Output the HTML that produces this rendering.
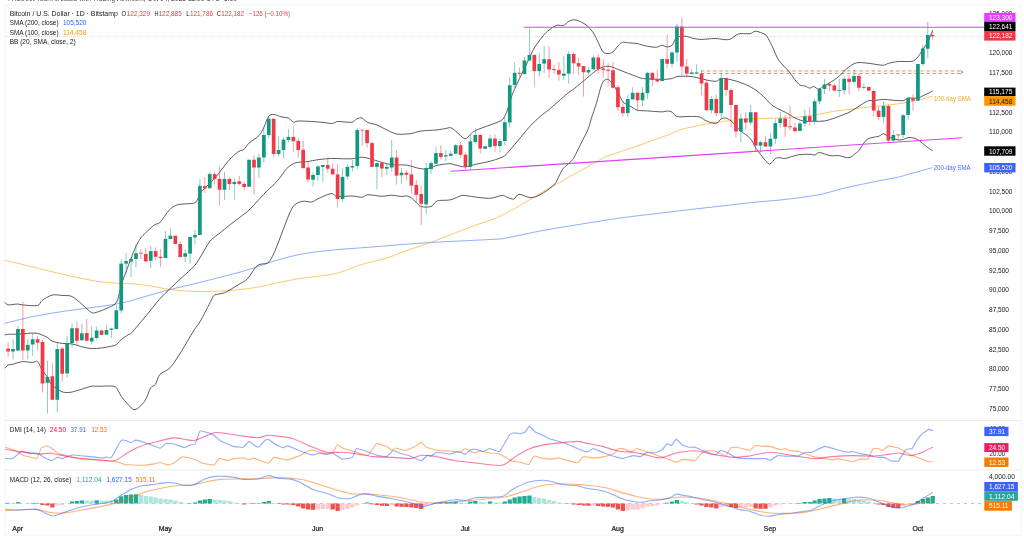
<!DOCTYPE html><html><head><meta charset="utf-8"><title>BTCUSD</title>
<style>html,body{margin:0;padding:0;background:#fff;overflow:hidden}svg{display:block;filter:blur(0.35px)}text{font-family:"Liberation Sans",sans-serif}</style></head><body>
<svg width="1024" height="538" viewBox="0 0 1024 538">
<rect width="1024" height="538" fill="#fff"/>
<text x="8" y="0.6" font-size="8.2" fill="#555" textLength="229" lengthAdjust="spacingAndGlyphs">FXStreet Team created with TradingView.com, Oct 04, 2025 11:06 UTC+5:30</text>
<rect x="5" y="5" width="1016" height="530.3" fill="none" stroke="#d4d6dc" stroke-width="0.5" stroke-dasharray="1 1"/>
<path d="M5 420.5H1021M5 470H1021" stroke="#e4e6ec" stroke-width="0.8" fill="none"/>
<path d="M5 36.3H984" stroke="#f23645" stroke-width="0.5" stroke-dasharray="1 1" opacity="0.55"/>
<rect x="701" y="70.3" width="261" height="3.8" fill="#ff9800" opacity="0.11"/>
<path d="M701 70.9H961M701 73.5H961" stroke="#707070" stroke-width="0.6" stroke-dasharray="3 3.1" fill="none"/>
<path d="M960.5 70.6L963 72.2L960.5 73.8" stroke="#555" stroke-width="0.6" fill="none"/>
<path d="M5.00 323.25 C9.65 322.15 22.78 318.74 32.50 316.75 C42.22 314.76 51.73 313.15 62.50 311.50 C73.27 309.85 87.38 308.23 96.25 307.00 C103.76 305.96 109.63 305.18 115.00 304.25 C120.24 303.34 124.92 302.22 128.00 301.50 C130.13 301.00 131.15 300.60 133.25 300.00 C140.05 298.06 157.05 292.96 168.25 290.00 C179.45 287.04 187.37 285.53 199.50 282.50 C211.63 279.47 229.99 274.85 240.00 272.10 C247.58 270.02 252.41 268.29 258.75 266.25 C265.09 264.21 270.53 262.00 277.50 260.00 C284.47 258.00 292.61 255.88 300.00 254.40 C307.39 252.92 314.49 252.09 321.25 251.25 C328.01 250.41 332.49 250.03 340.00 249.40 C347.90 248.73 357.99 248.09 368.00 247.30 C378.01 246.51 388.69 245.56 399.25 244.75 C409.81 243.94 419.94 243.15 430.50 242.50 C441.06 241.85 450.68 241.46 461.75 240.90 C472.82 240.34 488.94 239.59 496.00 239.20 C499.01 239.03 500.53 239.11 503.50 238.60 C507.73 237.87 513.99 236.33 521.00 234.90 C528.18 233.43 537.55 231.45 546.00 229.90 C554.45 228.35 562.55 227.13 571.00 225.75 C579.45 224.37 587.04 223.14 596.00 221.75 C604.96 220.36 612.77 218.96 624.00 217.50 C639.29 215.51 670.28 211.91 686.50 210.00 C699.89 208.42 708.93 207.47 720.00 206.20 C731.07 204.93 743.55 203.40 752.00 202.50 C759.19 201.74 765.27 201.32 770.00 200.90 C774.00 200.54 776.01 200.46 780.00 200.00 C785.91 199.32 797.61 197.96 805.00 196.90 C812.39 195.84 817.41 195.17 823.75 193.75 C830.09 192.33 836.16 190.08 842.50 188.50 C848.84 186.92 854.91 185.74 861.25 184.40 C867.59 183.06 873.66 181.85 880.00 180.60 C886.34 179.35 894.02 178.05 898.75 177.00 C902.50 176.17 904.41 175.40 908.00 174.40 C911.59 173.40 915.94 172.23 920.00 171.10 C924.06 169.97 929.97 168.27 932.00 167.70" fill="none" stroke="#2962ff" stroke-width="0.7" stroke-linejoin="round" stroke-linecap="round" opacity="0.75"/>
<path d="M5.00 260.50 C8.38 261.26 17.39 263.18 25.00 265.00 C32.61 266.82 41.55 269.22 50.00 271.25 C58.45 273.28 66.55 275.23 75.00 277.00 C83.45 278.77 92.82 280.69 100.00 281.75 C106.95 282.77 112.30 282.94 117.50 283.25 C122.70 283.56 125.46 283.19 130.75 283.60 C136.16 284.02 143.16 284.80 149.50 285.75 C155.84 286.70 161.91 288.35 168.25 289.25 C174.59 290.15 180.66 290.72 187.00 291.10 C193.34 291.48 199.41 291.56 205.75 291.50 C212.09 291.44 218.71 291.07 224.50 290.75 C230.29 290.43 234.21 290.25 240.00 289.60 C245.79 288.95 252.41 288.06 258.75 286.90 C265.09 285.74 270.53 284.17 277.50 282.75 C284.47 281.33 292.61 279.66 300.00 278.50 C307.39 277.34 314.91 276.81 321.25 275.90 C327.59 274.99 332.22 274.48 337.50 273.10 C342.78 271.72 347.35 269.51 352.50 267.75 C357.65 265.99 362.21 264.33 368.00 262.70 C373.79 261.07 380.41 260.08 386.75 258.10 C393.09 256.12 398.11 253.64 405.50 251.00 C412.89 248.36 422.05 245.58 430.50 242.50 C438.95 239.42 448.11 235.61 455.50 232.75 C462.89 229.89 467.41 228.06 474.25 225.60 C481.09 223.14 490.21 220.54 496.00 218.20 C501.22 216.09 504.27 214.00 508.50 211.75 C512.73 209.50 516.77 207.33 521.00 204.90 C525.23 202.47 529.27 199.94 533.50 197.40 C537.73 194.87 541.77 192.33 546.00 189.90 C550.23 187.47 554.78 185.08 558.50 183.00 C562.22 180.92 564.28 179.70 568.00 177.60 C571.72 175.50 576.27 172.94 580.50 170.60 C584.73 168.26 588.77 166.07 593.00 163.75 C597.23 161.43 601.27 158.80 605.50 156.90 C609.73 155.00 613.77 153.99 618.00 152.50 C622.23 151.01 626.27 149.54 630.50 148.10 C634.73 146.66 638.77 145.47 643.00 144.00 C647.23 142.53 651.27 140.92 655.50 139.40 C659.73 137.88 664.20 136.49 668.00 135.00 C671.80 133.51 674.83 131.77 678.00 130.60 C681.17 129.43 684.43 128.71 686.75 128.10 C688.73 127.58 689.74 127.42 691.75 127.00 C695.09 126.31 701.54 124.86 706.50 124.00 C711.46 123.14 716.94 122.51 721.10 121.90 C725.10 121.31 727.08 120.83 731.10 120.40 C736.07 119.87 743.00 119.14 750.50 118.75 C758.00 118.36 768.00 118.31 775.50 118.10 C783.00 117.89 789.93 117.81 794.90 117.50 C798.92 117.25 801.57 116.67 804.90 116.25 C808.23 115.83 810.74 115.65 814.60 115.00 C819.59 114.16 827.74 112.31 834.40 111.25 C841.06 110.19 847.35 109.55 854.00 108.75 C860.65 107.95 867.07 107.24 873.75 106.50 C880.43 105.76 887.69 105.12 893.50 104.40 C899.31 103.68 903.98 102.95 908.10 102.25 C912.04 101.58 914.54 101.09 917.90 100.25 C921.26 99.41 925.62 97.88 928.00 97.25 C929.57 96.83 931.32 96.63 932.00 96.50" fill="none" stroke="#ff9800" stroke-width="0.75" stroke-linejoin="round" stroke-linecap="round" opacity="0.75"/>
<path d="M5.00 302.40 C5.52 302.82 6.52 304.70 8.10 304.90 C10.21 305.17 15.07 304.00 17.50 304.00 C19.53 304.00 20.47 304.75 22.50 304.90 C25.88 305.15 34.19 306.24 37.50 305.50 C40.15 304.90 39.89 302.08 42.10 300.50 C44.57 298.74 48.65 295.95 52.10 295.10 C55.55 294.25 59.15 295.26 62.50 295.50 C65.85 295.74 68.62 295.02 71.90 296.50 C75.18 297.98 78.59 301.53 81.90 304.25 C85.21 306.97 89.07 311.22 91.50 312.60 C93.15 313.54 94.41 312.90 96.25 312.40 C98.74 311.72 102.91 310.19 106.25 308.60 C109.59 307.01 113.68 306.06 116.00 303.00 C118.32 299.94 119.00 293.88 120.00 290.50 C120.88 287.53 121.35 284.90 121.90 283.00 C122.34 281.47 122.69 280.74 123.25 279.25 C124.75 275.24 128.64 264.74 130.75 259.25 C132.68 254.22 134.06 250.34 135.75 246.75 C137.44 243.16 139.10 240.32 140.75 238.00 C142.35 235.75 143.51 234.91 145.50 233.00 C147.82 230.76 152.13 226.46 154.50 224.75 C156.23 223.50 157.99 224.41 159.50 222.90 C162.03 220.37 166.75 212.71 169.50 209.75 C171.57 207.52 173.64 206.35 175.75 205.40 C177.86 204.45 179.47 204.44 182.00 204.10 C185.17 203.68 191.75 203.95 194.50 202.90 C196.84 202.01 196.98 199.91 198.25 197.90 C199.52 195.89 200.52 193.01 202.00 191.00 C203.48 188.99 205.31 187.69 207.00 186.00 C208.69 184.31 210.10 183.01 212.00 181.00 C213.90 178.99 216.22 176.59 218.25 174.10 C220.28 171.61 221.76 169.06 224.00 166.25 C226.24 163.44 228.97 160.03 231.50 157.50 C234.03 154.97 236.89 152.62 239.00 151.25 C240.79 150.09 242.35 150.75 244.00 149.40 C245.69 148.02 246.63 145.28 249.00 143.10 C251.53 140.77 256.51 138.24 259.00 135.60 C261.49 132.96 262.10 130.77 263.75 127.50 C265.40 124.23 267.06 118.46 268.75 116.25 C270.04 114.55 271.62 114.29 273.75 114.40 C275.90 114.51 279.02 116.27 281.50 116.90 C283.98 117.53 286.39 117.22 288.40 118.10 C290.41 118.98 291.78 121.61 293.40 122.10 C295.02 122.59 296.11 121.06 298.00 121.00 C301.06 120.90 307.11 121.25 311.50 121.50 C315.89 121.75 320.45 122.16 324.00 122.50 C327.41 122.82 330.22 123.67 332.50 123.50 C334.65 123.34 335.35 121.64 337.50 121.50 C340.80 121.29 348.70 122.71 352.00 122.25 C354.42 121.91 355.27 119.45 357.00 118.75 C358.73 118.05 360.52 117.51 362.25 118.10 C363.98 118.69 364.90 121.15 367.25 122.25 C369.74 123.42 373.68 123.69 377.00 125.00 C380.32 126.31 383.59 128.48 386.90 130.00 C390.21 131.52 393.30 133.32 396.60 134.00 C399.90 134.68 403.90 134.08 406.40 134.00 C408.41 133.93 409.43 133.90 411.40 133.50 C413.91 132.99 417.23 131.57 421.25 131.00 C425.41 130.41 431.86 130.42 436.00 130.00 C439.93 129.60 443.26 128.88 445.75 128.50 C447.75 128.20 449.06 127.29 450.75 127.75 C452.44 128.21 453.82 129.75 455.75 131.25 C458.14 133.11 462.45 138.22 464.90 138.75 C467.35 139.28 468.50 135.78 470.25 134.40 C472.00 133.02 472.98 131.68 475.25 130.60 C478.59 129.01 485.83 126.58 490.00 125.00 C493.96 123.50 497.60 122.42 499.90 121.25 C501.63 120.37 502.52 119.72 503.60 118.10 C504.87 116.20 506.15 113.35 507.40 110.00 C508.67 106.60 509.90 101.51 511.10 98.00 C512.30 94.49 513.08 92.53 514.50 89.25 C515.92 85.97 517.81 82.09 519.50 78.60 C521.19 75.11 522.81 72.12 524.50 68.60 C526.19 65.08 527.85 61.23 529.50 57.75 C531.15 54.27 531.96 51.69 534.25 48.00 C536.57 44.26 540.74 38.64 543.25 35.60 C545.31 33.10 546.78 31.75 549.10 30.00 C551.42 28.25 554.61 25.99 557.00 25.25 C559.39 24.51 561.24 26.28 563.25 25.60 C565.26 24.92 567.10 22.24 568.90 21.25 C570.70 20.26 572.21 19.79 573.90 19.75 C575.59 19.71 577.02 20.16 578.90 21.00 C581.11 21.99 584.53 23.56 587.00 25.60 C589.47 27.64 591.60 30.24 593.50 33.10 C595.40 35.96 596.64 39.32 598.25 42.50 C599.86 45.68 601.35 50.04 603.00 51.90 C604.39 53.47 606.31 53.50 608.00 53.50 C609.69 53.50 611.34 53.18 613.00 51.90 C614.73 50.56 616.63 47.23 618.25 45.60 C619.80 44.04 621.02 42.73 622.60 42.25 C624.18 41.77 625.60 42.58 627.60 42.75 C630.03 42.96 634.90 43.22 637.00 43.50 C638.24 43.67 638.79 44.08 640.00 44.40 C641.77 44.86 644.75 45.77 647.50 46.25 C650.25 46.73 653.82 47.42 656.25 47.25 C658.64 47.08 660.04 45.31 661.90 45.25 C663.76 45.19 665.50 46.94 667.25 46.90 C669.00 46.86 670.94 46.27 672.25 45.00 C673.56 43.73 674.11 40.77 675.00 39.40 C675.77 38.21 676.14 37.28 677.50 36.90 C679.40 36.37 683.82 36.05 686.25 36.25 C688.62 36.45 689.57 37.61 691.90 38.10 C694.43 38.63 697.47 39.33 701.25 39.40 C705.15 39.47 710.77 38.44 715.00 38.50 C719.23 38.56 723.50 39.71 726.25 39.75 C728.29 39.78 729.56 39.55 731.25 38.75 C732.94 37.95 734.56 35.89 736.25 35.00 C737.94 34.11 739.17 33.69 741.25 33.50 C743.57 33.29 747.57 34.13 750.00 33.75 C752.42 33.37 753.15 31.14 755.60 31.25 C758.13 31.36 762.90 33.24 765.00 34.40 C766.67 35.32 767.03 36.46 768.00 38.10 C769.35 40.40 771.21 44.30 773.00 48.00 C774.79 51.70 775.85 55.96 778.60 60.00 C781.35 64.04 786.50 68.56 789.25 71.90 C791.71 74.88 793.10 77.54 794.90 79.75 C796.70 81.96 798.21 83.94 799.90 85.00 C801.59 86.06 803.21 85.48 804.90 86.00 C806.59 86.52 808.43 88.02 809.90 88.10 C811.37 88.18 812.10 86.35 813.60 86.50 C815.10 86.65 816.92 89.15 818.75 89.00 C820.58 88.85 822.60 86.60 824.40 85.60 C826.20 84.60 827.51 84.30 829.40 83.10 C831.88 81.52 836.63 78.25 839.10 76.25 C841.27 74.49 842.33 72.83 844.00 71.25 C845.67 69.67 847.31 68.17 849.00 66.90 C850.69 65.63 852.31 64.49 854.00 63.75 C855.69 63.01 856.94 62.53 859.00 62.50 C861.70 62.46 865.93 63.04 870.00 63.50 C874.07 63.96 879.97 65.28 883.10 65.25 C885.40 65.23 886.27 63.84 888.50 63.30 C891.10 62.67 894.45 61.85 898.50 61.50 C902.56 61.15 909.22 62.03 912.50 61.25 C915.20 60.61 916.14 58.90 917.90 56.90 C919.66 54.90 921.18 52.04 922.90 49.40 C924.62 46.76 926.48 44.43 928.10 41.25 C929.72 38.07 931.76 32.40 932.50 30.60" fill="none" stroke="#2e2e2e" stroke-width="0.95" stroke-linejoin="round" stroke-linecap="round" opacity="0.82"/>
<path d="M5.00 334.90 C5.52 334.79 6.83 334.32 8.10 334.25 C10.21 334.14 14.22 334.39 17.50 334.25 C20.78 334.11 24.12 333.54 27.50 333.40 C30.88 333.26 34.16 332.72 37.50 333.40 C40.84 334.08 44.78 336.10 47.25 337.40 C49.41 338.54 49.83 340.19 52.10 341.10 C54.64 342.11 58.90 342.93 62.25 343.40 C65.60 343.87 68.58 343.33 71.90 343.90 C75.22 344.47 78.59 345.96 81.90 346.75 C85.21 347.54 88.19 348.39 91.50 348.60 C94.81 348.81 98.37 348.35 101.50 348.00 C104.63 347.65 107.55 347.02 110.00 346.50 C112.43 345.98 114.14 346.02 116.00 344.90 C117.86 343.78 118.97 341.59 121.00 339.90 C123.03 338.21 126.24 336.07 128.00 334.90 C129.30 334.04 130.34 334.14 131.40 333.00 C134.83 329.30 143.55 318.70 148.30 313.00 C152.84 307.55 155.71 303.48 159.50 299.25 C163.29 295.02 166.95 291.69 170.75 288.00 C174.55 284.31 177.99 281.16 182.00 277.40 C186.01 273.64 191.12 269.66 194.50 265.75 C197.88 261.84 199.47 258.31 202.00 254.25 C204.53 250.19 207.18 244.82 209.50 241.75 C211.54 239.06 213.98 237.58 215.75 236.10 C217.37 234.75 218.61 234.12 220.00 233.00 C221.39 231.88 222.33 230.81 224.00 229.50 C227.84 226.47 238.53 218.38 242.75 215.10 C245.28 213.14 246.74 212.36 249.00 210.10 C253.22 205.88 263.52 194.43 267.75 190.10 C270.10 187.70 271.85 186.71 274.00 184.50 C276.15 182.29 278.39 179.66 280.50 177.00 C282.61 174.34 284.32 170.99 286.50 168.75 C288.68 166.51 291.29 164.85 293.40 163.75 C295.46 162.68 296.71 162.60 299.00 162.25 C301.47 161.87 304.83 161.92 308.00 161.50 C311.17 161.08 313.99 160.26 317.75 159.75 C321.51 159.24 326.02 158.67 330.25 158.50 C334.48 158.33 339.07 158.71 342.75 158.75 C346.43 158.79 348.70 159.00 352.00 158.75 C355.30 158.50 358.87 157.14 362.25 157.25 C365.63 157.36 368.14 158.38 372.00 159.40 C376.17 160.50 382.74 162.80 386.90 163.75 C390.71 164.62 393.30 164.79 396.60 165.00 C399.90 165.21 403.05 164.54 406.40 165.00 C409.75 165.46 413.51 167.07 416.40 167.75 C419.21 168.41 421.03 169.00 423.50 169.00 C425.97 169.00 428.89 168.32 431.00 167.75 C433.10 167.18 433.89 166.14 436.00 165.60 C438.49 164.97 443.26 164.31 445.75 164.00 C447.74 163.75 449.06 163.58 450.75 163.75 C452.44 163.92 453.74 164.56 455.75 165.00 C458.20 165.53 461.95 167.00 465.25 166.90 C468.55 166.80 471.23 165.32 475.25 164.40 C479.43 163.45 485.83 162.31 490.00 161.25 C494.03 160.22 497.38 159.05 499.90 158.10 C501.99 157.31 503.28 156.87 504.90 155.60 C506.52 154.33 507.73 152.66 509.50 150.60 C512.14 147.54 516.95 141.72 520.50 137.50 C524.05 133.28 527.12 129.19 530.50 125.60 C533.88 122.01 537.46 118.89 540.50 116.25 C543.54 113.61 545.54 112.45 548.50 110.00 C551.46 107.55 554.70 104.62 558.00 101.75 C561.30 98.88 565.55 94.99 568.00 93.00 C569.68 91.64 570.79 91.32 572.50 90.00 C575.12 87.97 579.95 83.96 583.50 81.00 C587.05 78.04 590.97 74.53 593.50 72.50 C595.41 70.97 596.88 69.95 598.50 69.00 C600.12 68.05 601.51 67.36 603.10 66.90 C604.69 66.44 606.24 66.19 607.90 66.25 C609.56 66.31 611.21 66.72 612.90 67.25 C614.59 67.78 615.88 68.59 617.90 69.40 C620.37 70.39 624.19 71.83 627.50 73.10 C630.81 74.37 634.97 75.99 637.50 76.90 C639.48 77.61 640.77 78.19 642.50 78.50 C644.23 78.81 645.65 78.65 647.75 78.75 C651.09 78.90 658.11 79.44 662.25 79.40 C666.27 79.36 669.77 78.97 672.25 78.50 C674.22 78.12 674.91 76.88 676.90 76.60 C679.56 76.22 684.69 76.10 688.00 76.25 C691.31 76.40 693.37 76.87 696.50 77.50 C699.63 78.13 703.19 79.37 706.50 80.00 C709.81 80.63 713.63 81.50 716.10 81.25 C718.37 81.02 718.83 78.73 721.10 78.50 C723.63 78.25 727.72 79.03 731.10 79.75 C734.48 80.47 737.82 81.54 741.10 82.75 C744.38 83.96 747.22 85.04 750.50 86.90 C753.78 88.76 757.12 90.90 760.50 93.75 C763.88 96.60 767.97 101.43 770.50 103.75 C772.34 105.44 773.33 106.25 775.50 107.50 C777.99 108.94 781.97 110.52 785.25 112.25 C788.53 113.98 792.42 116.44 794.90 117.75 C796.84 118.78 798.21 119.41 799.90 120.00 C801.59 120.59 802.85 121.08 804.90 121.25 C807.38 121.46 811.30 121.29 814.60 121.25 C817.90 121.21 821.05 121.53 824.40 121.00 C827.75 120.47 831.09 119.22 834.40 118.10 C837.71 116.98 841.53 115.35 844.00 114.40 C846.00 113.63 847.31 113.34 849.00 112.50 C850.69 111.66 852.31 110.46 854.00 109.40 C855.69 108.34 857.35 107.31 859.00 106.25 C860.65 105.19 862.10 104.05 863.75 103.10 C865.40 102.15 867.06 101.02 868.75 100.60 C870.44 100.18 871.76 100.76 873.75 100.60 C876.28 100.40 880.41 99.46 883.75 99.40 C887.09 99.34 890.23 100.05 893.50 100.25 C896.77 100.45 900.63 100.96 903.10 100.60 C905.31 100.27 905.90 98.47 908.10 98.10 C910.60 97.68 915.37 98.52 917.90 98.10 C920.18 97.72 921.39 96.38 923.10 95.60 C924.81 94.82 926.41 94.28 928.00 93.50 C929.59 92.72 931.74 91.42 932.50 91.00" fill="none" stroke="#2e2e2e" stroke-width="0.95" stroke-linejoin="round" stroke-linecap="round" opacity="0.82"/>
<path d="M5.00 368.00 C5.52 367.49 6.83 365.61 8.10 365.00 C9.37 364.39 10.77 364.81 12.50 364.40 C14.93 363.83 19.12 361.92 22.50 361.60 C25.88 361.28 29.96 362.50 32.50 362.50 C34.53 362.50 35.91 360.34 37.50 361.60 C39.11 362.87 40.35 367.41 42.00 370.00 C43.65 372.59 45.56 374.36 47.25 376.90 C48.94 379.44 50.31 383.00 52.00 385.00 C53.66 386.97 55.52 387.58 57.25 388.75 C58.98 389.92 60.52 391.27 62.25 391.90 C63.98 392.53 65.77 392.50 67.50 392.50 C69.23 392.50 70.53 392.34 72.50 391.90 C74.82 391.38 78.08 390.35 81.25 389.40 C84.42 388.45 88.08 386.78 91.25 386.25 C94.42 385.72 96.62 386.29 100.00 386.25 C103.38 386.21 108.50 385.79 111.25 386.00 C113.33 386.16 114.79 386.01 116.25 387.50 C117.94 389.23 119.26 393.39 121.25 396.25 C123.24 399.11 125.68 402.14 128.00 404.40 C130.32 406.66 132.18 410.16 135.00 409.60 C137.82 409.04 142.05 404.78 144.70 401.10 C147.35 397.42 148.86 390.66 150.70 387.80 C152.02 385.76 154.22 386.20 155.60 384.20 C157.15 381.95 157.47 377.27 159.90 374.50 C162.33 371.73 166.65 371.26 170.00 367.80 C173.35 364.34 176.07 359.69 179.70 354.00 C183.79 347.59 190.74 335.41 194.20 329.90 C196.42 326.38 198.12 325.01 200.20 321.40 C203.11 316.35 208.98 304.44 211.40 300.00 C212.51 297.96 212.47 296.22 214.50 295.10 C216.71 293.87 221.54 293.85 224.50 292.75 C227.46 291.65 229.38 290.13 232.00 288.60 C234.62 287.07 237.38 285.36 240.00 283.70 C242.62 282.04 245.01 281.34 247.50 278.75 C250.46 275.67 254.12 268.16 257.50 265.50 C260.74 262.95 264.96 264.56 267.50 263.00 C270.04 261.44 270.90 259.21 272.50 256.25 C274.23 253.04 276.02 248.31 277.75 244.00 C279.48 239.69 280.62 236.00 282.75 230.75 C285.29 224.50 289.48 211.96 292.75 207.00 C295.15 203.36 298.93 202.25 302.10 201.40 C305.27 200.56 308.86 202.42 311.50 202.00 C314.14 201.58 315.22 200.07 317.75 198.90 C320.50 197.63 325.26 195.40 327.75 194.50 C329.57 193.85 331.02 193.28 332.50 193.60 C333.98 193.92 334.56 196.16 336.50 196.40 C339.80 196.81 347.65 195.86 352.00 196.00 C356.13 196.14 359.67 197.46 362.25 197.25 C364.48 197.07 365.02 194.86 367.25 194.75 C370.59 194.58 377.88 196.17 382.00 196.25 C385.86 196.33 388.32 195.21 391.60 195.25 C394.88 195.29 398.90 196.39 401.40 196.50 C403.41 196.59 404.71 195.69 406.40 195.90 C408.09 196.11 409.78 196.68 411.40 197.75 C413.02 198.82 414.38 200.77 416.00 202.25 C417.62 203.73 418.47 205.78 421.00 206.50 C423.54 207.22 428.46 207.34 431.00 206.50 C433.54 205.66 434.35 202.53 436.00 201.50 C437.65 200.47 438.81 200.63 440.75 200.40 C443.24 200.10 447.33 200.56 450.75 199.75 C454.17 198.94 458.76 196.34 461.00 195.60 C462.14 195.22 462.80 195.27 464.00 195.40 C467.21 195.74 475.40 197.13 480.00 197.60 C484.46 198.06 487.43 198.57 491.20 198.20 C494.97 197.83 499.48 195.50 502.30 195.40 C504.71 195.31 505.92 196.99 507.90 197.60 C509.88 198.21 512.12 199.57 514.00 199.00 C515.88 198.43 516.26 194.49 519.00 194.25 C521.74 194.01 526.65 197.51 530.20 197.60 C533.75 197.69 536.40 196.71 540.00 194.80 C544.01 192.67 550.76 188.01 553.90 185.00 C556.58 182.43 557.06 179.75 558.60 177.00 C560.14 174.25 560.99 171.30 563.00 168.75 C565.01 166.20 568.60 163.89 570.50 161.90 C572.21 160.12 573.03 159.14 574.25 157.00 C575.94 154.04 578.18 149.06 580.50 144.40 C582.82 139.74 586.14 133.86 588.00 129.40 C589.83 125.00 590.11 122.33 591.50 118.00 C592.89 113.67 594.47 109.49 596.25 103.75 C598.11 97.75 600.53 86.62 602.50 82.50 C603.57 80.25 606.14 79.08 607.90 79.40 C609.66 79.72 611.21 82.23 612.90 84.40 C614.59 86.57 616.21 89.29 617.90 92.25 C619.59 95.21 621.28 99.79 622.90 101.90 C624.22 103.62 625.88 103.80 627.50 104.75 C629.12 105.70 630.81 106.57 632.50 107.50 C634.19 108.43 635.27 109.75 637.50 110.25 C640.03 110.82 643.50 110.63 647.50 110.90 C651.68 111.18 658.91 111.88 662.25 111.90 C664.28 111.91 665.56 110.94 667.25 111.00 C668.94 111.06 670.62 111.32 672.25 112.25 C673.88 113.18 674.47 115.84 676.90 116.50 C679.56 117.22 684.69 116.50 688.00 116.50 C691.31 116.50 694.29 116.33 696.50 116.50 C698.38 116.64 699.41 116.74 701.10 117.50 C702.79 118.26 704.10 120.07 706.50 121.00 C709.03 121.98 713.63 123.64 716.10 123.30 C718.57 122.96 719.51 119.88 721.10 119.00 C722.67 118.13 723.81 117.80 725.50 118.10 C727.19 118.40 729.31 119.38 731.10 120.80 C732.89 122.22 734.41 124.73 736.10 126.50 C737.79 128.27 739.00 129.46 741.10 131.25 C743.53 133.32 748.07 136.00 750.50 138.75 C752.93 141.50 753.81 144.86 755.50 147.50 C757.19 150.14 758.81 152.19 760.50 154.40 C762.19 156.61 763.91 158.98 765.50 160.60 C767.06 162.19 768.21 164.35 769.90 164.00 C771.59 163.65 773.79 159.56 775.50 158.50 C777.05 157.54 778.39 157.75 780.00 157.75 C781.61 157.75 783.00 158.82 785.00 158.50 C788.17 157.99 794.31 155.44 798.75 154.75 C803.19 154.06 808.50 154.36 811.25 154.40 C812.77 154.42 813.62 155.32 815.00 155.00 C816.38 154.68 817.38 152.42 819.40 152.50 C821.93 152.60 826.73 155.08 830.00 155.60 C833.27 156.12 835.58 155.24 838.75 155.60 C841.92 155.96 846.00 158.06 848.75 157.75 C851.50 157.44 853.20 155.06 855.00 153.75 C856.80 152.44 857.93 151.79 859.40 150.00 C860.88 148.20 862.17 145.04 863.75 143.10 C865.33 141.16 866.28 139.63 868.75 138.50 C871.28 137.34 876.22 137.05 878.75 136.25 C880.88 135.57 882.10 133.64 883.75 133.75 C885.40 133.86 886.85 136.10 888.50 136.90 C890.15 137.70 891.83 137.98 893.50 138.50 C895.17 139.02 896.71 139.85 898.40 140.00 C900.09 140.15 901.86 139.82 903.50 139.40 C905.14 138.98 906.37 137.72 908.10 137.50 C909.83 137.28 911.95 137.64 913.75 138.10 C915.55 138.56 917.06 139.19 918.75 140.25 C920.44 141.31 922.10 143.07 923.75 144.40 C925.40 145.73 927.06 147.09 928.50 148.10 C929.94 149.11 931.62 150.01 932.25 150.40" fill="none" stroke="#2e2e2e" stroke-width="0.95" stroke-linejoin="round" stroke-linecap="round" opacity="0.82"/>
<path d="M8.10 342.40V356.90" stroke="#ee3a48" stroke-width="0.6" opacity="0.85"/>
<rect x="6.25" y="348.60" width="3.70" height="2.90" fill="#ee3a48"/>
<path d="M13.02 339.25V359.40" stroke="#12987f" stroke-width="0.6" opacity="0.85"/>
<rect x="11.17" y="349.00" width="3.70" height="2.50" fill="#12987f"/>
<path d="M17.94 326.00V351.00" stroke="#12987f" stroke-width="0.6" opacity="0.85"/>
<rect x="16.09" y="329.00" width="3.70" height="21.50" fill="#12987f"/>
<path d="M22.85 301.75V359.75" stroke="#ee3a48" stroke-width="0.6" opacity="0.85"/>
<rect x="21.00" y="329.00" width="3.70" height="21.50" fill="#ee3a48"/>
<path d="M27.77 339.25V359.50" stroke="#12987f" stroke-width="0.6" opacity="0.85"/>
<rect x="25.92" y="344.90" width="3.70" height="5.60" fill="#12987f"/>
<path d="M32.69 333.00V356.00" stroke="#12987f" stroke-width="0.6" opacity="0.85"/>
<rect x="30.84" y="339.25" width="3.70" height="5.25" fill="#12987f"/>
<path d="M37.61 336.00V350.50" stroke="#ee3a48" stroke-width="0.6" opacity="0.85"/>
<rect x="35.76" y="339.25" width="3.70" height="3.50" fill="#ee3a48"/>
<path d="M42.53 339.90V392.50" stroke="#ee3a48" stroke-width="0.6" opacity="0.85"/>
<rect x="40.68" y="342.00" width="3.70" height="41.50" fill="#ee3a48"/>
<path d="M47.44 360.60V413.50" stroke="#12987f" stroke-width="0.6" opacity="0.85"/>
<rect x="45.59" y="376.90" width="3.70" height="5.85" fill="#12987f"/>
<path d="M52.36 363.00V400.00" stroke="#ee3a48" stroke-width="0.6" opacity="0.85"/>
<rect x="50.51" y="376.25" width="3.70" height="23.50" fill="#ee3a48"/>
<path d="M57.28 342.75V412.50" stroke="#12987f" stroke-width="0.6" opacity="0.85"/>
<rect x="55.43" y="349.00" width="3.70" height="50.75" fill="#12987f"/>
<path d="M62.20 347.00V381.90" stroke="#ee3a48" stroke-width="0.6" opacity="0.85"/>
<rect x="60.35" y="348.60" width="3.70" height="25.15" fill="#ee3a48"/>
<path d="M67.12 336.00V377.75" stroke="#12987f" stroke-width="0.6" opacity="0.85"/>
<rect x="65.27" y="343.00" width="3.70" height="30.40" fill="#12987f"/>
<path d="M72.03 323.25V347.40" stroke="#12987f" stroke-width="0.6" opacity="0.85"/>
<rect x="70.18" y="328.25" width="3.70" height="14.75" fill="#12987f"/>
<path d="M76.95 321.75V345.25" stroke="#ee3a48" stroke-width="0.6" opacity="0.85"/>
<rect x="75.10" y="328.25" width="3.70" height="12.50" fill="#ee3a48"/>
<path d="M81.87 323.60V340.50" stroke="#12987f" stroke-width="0.6" opacity="0.85"/>
<rect x="80.02" y="333.25" width="3.70" height="7.00" fill="#12987f"/>
<path d="M86.79 319.00V341.00" stroke="#ee3a48" stroke-width="0.6" opacity="0.85"/>
<rect x="84.94" y="333.00" width="3.70" height="7.75" fill="#ee3a48"/>
<path d="M91.71 326.00V344.50" stroke="#12987f" stroke-width="0.6" opacity="0.85"/>
<rect x="89.86" y="337.75" width="3.70" height="3.75" fill="#12987f"/>
<path d="M96.62 326.50V339.50" stroke="#12987f" stroke-width="0.6" opacity="0.85"/>
<rect x="94.77" y="330.50" width="3.70" height="7.50" fill="#12987f"/>
<path d="M101.54 329.50V335.00" stroke="#ee3a48" stroke-width="0.6" opacity="0.85"/>
<rect x="99.69" y="330.50" width="3.70" height="4.40" fill="#ee3a48"/>
<path d="M106.46 325.50V335.00" stroke="#12987f" stroke-width="0.6" opacity="0.85"/>
<rect x="104.61" y="330.00" width="3.70" height="4.60" fill="#12987f"/>
<path d="M111.38 327.75V338.00" stroke="#12987f" stroke-width="0.6" opacity="0.85"/>
<rect x="109.53" y="328.60" width="3.70" height="1.30" fill="#12987f"/>
<path d="M116.30 305.50V329.50" stroke="#12987f" stroke-width="0.6" opacity="0.85"/>
<rect x="114.45" y="310.25" width="3.70" height="18.75" fill="#12987f"/>
<path d="M121.21 259.25V313.60" stroke="#12987f" stroke-width="0.6" opacity="0.85"/>
<rect x="119.36" y="263.60" width="3.70" height="46.90" fill="#12987f"/>
<path d="M126.13 253.00V274.25" stroke="#12987f" stroke-width="0.6" opacity="0.85"/>
<rect x="124.28" y="261.10" width="3.70" height="2.50" fill="#12987f"/>
<path d="M131.05 258.50V276.75" stroke="#12987f" stroke-width="0.6" opacity="0.85"/>
<rect x="129.20" y="258.90" width="3.70" height="2.60" fill="#12987f"/>
<path d="M135.97 244.50V267.40" stroke="#12987f" stroke-width="0.6" opacity="0.85"/>
<rect x="134.12" y="253.25" width="3.70" height="5.75" fill="#12987f"/>
<path d="M140.89 249.25V259.00" stroke="#ee3a48" stroke-width="0.6" opacity="0.85"/>
<rect x="139.04" y="252.75" width="3.70" height="0.85" fill="#ee3a48"/>
<path d="M145.80 248.25V261.50" stroke="#ee3a48" stroke-width="0.6" opacity="0.85"/>
<rect x="143.95" y="254.00" width="3.70" height="7.40" fill="#ee3a48"/>
<path d="M150.72 246.10V268.00" stroke="#12987f" stroke-width="0.6" opacity="0.85"/>
<rect x="148.87" y="251.10" width="3.70" height="9.65" fill="#12987f"/>
<path d="M155.64 247.40V260.25" stroke="#ee3a48" stroke-width="0.6" opacity="0.85"/>
<rect x="153.79" y="251.10" width="3.70" height="5.65" fill="#ee3a48"/>
<path d="M160.56 249.00V266.75" stroke="#ee3a48" stroke-width="0.6" opacity="0.85"/>
<rect x="158.71" y="256.75" width="3.70" height="1.25" fill="#ee3a48"/>
<path d="M165.48 231.00V258.20" stroke="#12987f" stroke-width="0.6" opacity="0.85"/>
<rect x="163.63" y="238.90" width="3.70" height="19.10" fill="#12987f"/>
<path d="M170.39 227.90V239.20" stroke="#12987f" stroke-width="0.6" opacity="0.85"/>
<rect x="168.54" y="235.75" width="3.70" height="3.25" fill="#12987f"/>
<path d="M175.31 235.50V244.20" stroke="#ee3a48" stroke-width="0.6" opacity="0.85"/>
<rect x="173.46" y="235.75" width="3.70" height="8.25" fill="#ee3a48"/>
<path d="M180.23 241.10V257.20" stroke="#ee3a48" stroke-width="0.6" opacity="0.85"/>
<rect x="178.38" y="244.00" width="3.70" height="13.00" fill="#ee3a48"/>
<path d="M185.15 249.25V262.40" stroke="#12987f" stroke-width="0.6" opacity="0.85"/>
<rect x="183.30" y="253.25" width="3.70" height="3.50" fill="#12987f"/>
<path d="M190.07 236.80V263.60" stroke="#12987f" stroke-width="0.6" opacity="0.85"/>
<rect x="188.22" y="237.00" width="3.70" height="16.60" fill="#12987f"/>
<path d="M194.98 229.75V244.50" stroke="#12987f" stroke-width="0.6" opacity="0.85"/>
<rect x="193.13" y="234.90" width="3.70" height="2.50" fill="#12987f"/>
<path d="M199.90 179.10V235.00" stroke="#12987f" stroke-width="0.6" opacity="0.85"/>
<rect x="198.05" y="185.75" width="3.70" height="49.15" fill="#12987f"/>
<path d="M204.82 177.25V192.90" stroke="#ee3a48" stroke-width="0.6" opacity="0.85"/>
<rect x="202.97" y="186.25" width="3.70" height="2.25" fill="#ee3a48"/>
<path d="M209.74 172.00V188.50" stroke="#12987f" stroke-width="0.6" opacity="0.85"/>
<rect x="207.89" y="174.10" width="3.70" height="14.15" fill="#12987f"/>
<path d="M214.66 172.00V184.75" stroke="#ee3a48" stroke-width="0.6" opacity="0.85"/>
<rect x="212.81" y="174.10" width="3.70" height="5.00" fill="#ee3a48"/>
<path d="M219.57 166.25V205.75" stroke="#ee3a48" stroke-width="0.6" opacity="0.85"/>
<rect x="217.72" y="178.90" width="3.70" height="10.85" fill="#ee3a48"/>
<path d="M224.49 172.00V199.75" stroke="#12987f" stroke-width="0.6" opacity="0.85"/>
<rect x="222.64" y="178.90" width="3.70" height="10.85" fill="#12987f"/>
<path d="M229.41 177.25V190.40" stroke="#ee3a48" stroke-width="0.6" opacity="0.85"/>
<rect x="227.56" y="178.90" width="3.70" height="5.20" fill="#ee3a48"/>
<path d="M234.33 178.50V199.75" stroke="#12987f" stroke-width="0.6" opacity="0.85"/>
<rect x="232.48" y="181.90" width="3.70" height="2.20" fill="#12987f"/>
<path d="M239.25 176.00V185.75" stroke="#ee3a48" stroke-width="0.6" opacity="0.85"/>
<rect x="237.40" y="181.40" width="3.70" height="2.50" fill="#ee3a48"/>
<path d="M244.16 182.00V190.10" stroke="#ee3a48" stroke-width="0.6" opacity="0.85"/>
<rect x="242.31" y="183.90" width="3.70" height="3.10" fill="#ee3a48"/>
<path d="M249.08 159.50V187.00" stroke="#12987f" stroke-width="0.6" opacity="0.85"/>
<rect x="247.23" y="159.75" width="3.70" height="27.00" fill="#12987f"/>
<path d="M254.00 155.25V194.50" stroke="#ee3a48" stroke-width="0.6" opacity="0.85"/>
<rect x="252.15" y="159.75" width="3.70" height="7.75" fill="#ee3a48"/>
<path d="M258.92 153.75V178.25" stroke="#12987f" stroke-width="0.6" opacity="0.85"/>
<rect x="257.07" y="157.50" width="3.70" height="10.00" fill="#12987f"/>
<path d="M263.84 127.50V162.50" stroke="#12987f" stroke-width="0.6" opacity="0.85"/>
<rect x="261.99" y="135.00" width="3.70" height="22.50" fill="#12987f"/>
<path d="M268.75 116.90V138.10" stroke="#12987f" stroke-width="0.6" opacity="0.85"/>
<rect x="266.90" y="118.75" width="3.70" height="16.25" fill="#12987f"/>
<path d="M273.67 118.50V157.50" stroke="#ee3a48" stroke-width="0.6" opacity="0.85"/>
<rect x="271.82" y="118.75" width="3.70" height="35.25" fill="#ee3a48"/>
<path d="M278.59 136.25V156.90" stroke="#12987f" stroke-width="0.6" opacity="0.85"/>
<rect x="276.74" y="150.00" width="3.70" height="4.00" fill="#12987f"/>
<path d="M283.51 137.50V158.50" stroke="#12987f" stroke-width="0.6" opacity="0.85"/>
<rect x="281.66" y="139.60" width="3.70" height="10.40" fill="#12987f"/>
<path d="M288.43 129.00V142.50" stroke="#12987f" stroke-width="0.6" opacity="0.85"/>
<rect x="286.58" y="136.90" width="3.70" height="3.10" fill="#12987f"/>
<path d="M293.34 126.00V151.90" stroke="#ee3a48" stroke-width="0.6" opacity="0.85"/>
<rect x="291.49" y="136.90" width="3.70" height="4.35" fill="#ee3a48"/>
<path d="M298.26 138.10V157.50" stroke="#ee3a48" stroke-width="0.6" opacity="0.85"/>
<rect x="296.41" y="140.90" width="3.70" height="9.10" fill="#ee3a48"/>
<path d="M303.18 140.60V168.30" stroke="#ee3a48" stroke-width="0.6" opacity="0.85"/>
<rect x="301.33" y="149.75" width="3.70" height="18.35" fill="#ee3a48"/>
<path d="M308.10 161.25V182.60" stroke="#ee3a48" stroke-width="0.6" opacity="0.85"/>
<rect x="306.25" y="167.50" width="3.70" height="12.00" fill="#ee3a48"/>
<path d="M313.02 172.50V186.40" stroke="#12987f" stroke-width="0.6" opacity="0.85"/>
<rect x="311.17" y="175.00" width="3.70" height="4.75" fill="#12987f"/>
<path d="M317.93 165.00V180.75" stroke="#12987f" stroke-width="0.6" opacity="0.85"/>
<rect x="316.08" y="166.50" width="3.70" height="8.50" fill="#12987f"/>
<path d="M322.85 164.80V181.75" stroke="#12987f" stroke-width="0.6" opacity="0.85"/>
<rect x="321.00" y="165.00" width="3.70" height="1.90" fill="#12987f"/>
<path d="M327.77 157.50V172.50" stroke="#ee3a48" stroke-width="0.6" opacity="0.85"/>
<rect x="325.92" y="165.00" width="3.70" height="3.75" fill="#ee3a48"/>
<path d="M332.69 163.75V174.60" stroke="#ee3a48" stroke-width="0.6" opacity="0.85"/>
<rect x="330.84" y="168.75" width="3.70" height="5.65" fill="#ee3a48"/>
<path d="M337.61 164.00V207.50" stroke="#ee3a48" stroke-width="0.6" opacity="0.85"/>
<rect x="335.76" y="174.40" width="3.70" height="24.60" fill="#ee3a48"/>
<path d="M342.52 168.75V201.90" stroke="#12987f" stroke-width="0.6" opacity="0.85"/>
<rect x="340.67" y="176.90" width="3.70" height="22.10" fill="#12987f"/>
<path d="M347.44 164.40V179.40" stroke="#12987f" stroke-width="0.6" opacity="0.85"/>
<rect x="345.59" y="166.90" width="3.70" height="9.60" fill="#12987f"/>
<path d="M352.36 160.00V171.25" stroke="#12987f" stroke-width="0.6" opacity="0.85"/>
<rect x="350.51" y="166.00" width="3.70" height="1.50" fill="#12987f"/>
<path d="M357.28 128.10V168.75" stroke="#12987f" stroke-width="0.6" opacity="0.85"/>
<rect x="355.43" y="130.00" width="3.70" height="36.00" fill="#12987f"/>
<path d="M362.20 129.50V145.60" stroke="#ee3a48" stroke-width="0.6" opacity="0.85"/>
<rect x="360.35" y="129.75" width="3.70" height="0.70" fill="#ee3a48"/>
<path d="M367.11 129.80V147.50" stroke="#ee3a48" stroke-width="0.6" opacity="0.85"/>
<rect x="365.26" y="130.00" width="3.70" height="13.10" fill="#ee3a48"/>
<path d="M372.03 141.90V167.00" stroke="#ee3a48" stroke-width="0.6" opacity="0.85"/>
<rect x="370.18" y="143.10" width="3.70" height="23.80" fill="#ee3a48"/>
<path d="M376.95 163.00V189.40" stroke="#12987f" stroke-width="0.6" opacity="0.85"/>
<rect x="375.10" y="163.10" width="3.70" height="3.80" fill="#12987f"/>
<path d="M381.87 161.90V176.90" stroke="#ee3a48" stroke-width="0.6" opacity="0.85"/>
<rect x="380.02" y="163.10" width="3.70" height="5.40" fill="#ee3a48"/>
<path d="M386.79 163.75V175.00" stroke="#12987f" stroke-width="0.6" opacity="0.85"/>
<rect x="384.94" y="166.90" width="3.70" height="1.85" fill="#12987f"/>
<path d="M391.70 140.00V171.90" stroke="#12987f" stroke-width="0.6" opacity="0.85"/>
<rect x="389.85" y="157.50" width="3.70" height="10.00" fill="#12987f"/>
<path d="M396.62 150.25V184.75" stroke="#ee3a48" stroke-width="0.6" opacity="0.85"/>
<rect x="394.77" y="157.50" width="3.70" height="18.10" fill="#ee3a48"/>
<path d="M401.54 168.10V183.50" stroke="#12987f" stroke-width="0.6" opacity="0.85"/>
<rect x="399.69" y="172.75" width="3.70" height="2.50" fill="#12987f"/>
<path d="M406.46 170.00V180.25" stroke="#ee3a48" stroke-width="0.6" opacity="0.85"/>
<rect x="404.61" y="172.75" width="3.70" height="2.00" fill="#ee3a48"/>
<path d="M411.38 159.75V193.50" stroke="#ee3a48" stroke-width="0.6" opacity="0.85"/>
<rect x="409.53" y="174.40" width="3.70" height="11.20" fill="#ee3a48"/>
<path d="M416.29 180.00V203.10" stroke="#ee3a48" stroke-width="0.6" opacity="0.85"/>
<rect x="414.44" y="185.00" width="3.70" height="9.75" fill="#ee3a48"/>
<path d="M421.21 185.00V225.00" stroke="#ee3a48" stroke-width="0.6" opacity="0.85"/>
<rect x="419.36" y="194.00" width="3.70" height="9.75" fill="#ee3a48"/>
<path d="M426.13 163.10V213.75" stroke="#12987f" stroke-width="0.6" opacity="0.85"/>
<rect x="424.28" y="168.10" width="3.70" height="36.30" fill="#12987f"/>
<path d="M431.05 161.25V173.75" stroke="#12987f" stroke-width="0.6" opacity="0.85"/>
<rect x="429.20" y="163.10" width="3.70" height="5.90" fill="#12987f"/>
<path d="M435.97 146.90V164.00" stroke="#12987f" stroke-width="0.6" opacity="0.85"/>
<rect x="434.12" y="153.10" width="3.70" height="10.65" fill="#12987f"/>
<path d="M440.88 145.25V159.40" stroke="#ee3a48" stroke-width="0.6" opacity="0.85"/>
<rect x="439.03" y="153.10" width="3.70" height="3.80" fill="#ee3a48"/>
<path d="M445.80 149.75V161.50" stroke="#12987f" stroke-width="0.6" opacity="0.85"/>
<rect x="443.95" y="155.25" width="3.70" height="1.25" fill="#12987f"/>
<path d="M450.72 151.25V156.00" stroke="#12987f" stroke-width="0.6" opacity="0.85"/>
<rect x="448.87" y="153.75" width="3.70" height="2.05" fill="#12987f"/>
<path d="M455.64 144.00V154.00" stroke="#12987f" stroke-width="0.6" opacity="0.85"/>
<rect x="453.79" y="145.25" width="3.70" height="8.50" fill="#12987f"/>
<path d="M460.56 141.90V157.75" stroke="#ee3a48" stroke-width="0.6" opacity="0.85"/>
<rect x="458.71" y="145.25" width="3.70" height="9.50" fill="#ee3a48"/>
<path d="M465.47 152.50V169.75" stroke="#ee3a48" stroke-width="0.6" opacity="0.85"/>
<rect x="463.62" y="154.75" width="3.70" height="12.15" fill="#ee3a48"/>
<path d="M470.39 135.00V170.60" stroke="#12987f" stroke-width="0.6" opacity="0.85"/>
<rect x="468.54" y="141.25" width="3.70" height="25.65" fill="#12987f"/>
<path d="M475.31 128.10V143.50" stroke="#12987f" stroke-width="0.6" opacity="0.85"/>
<rect x="473.46" y="135.00" width="3.70" height="6.90" fill="#12987f"/>
<path d="M480.23 133.75V153.50" stroke="#ee3a48" stroke-width="0.6" opacity="0.85"/>
<rect x="478.38" y="135.00" width="3.70" height="13.50" fill="#ee3a48"/>
<path d="M485.15 146.00V149.00" stroke="#12987f" stroke-width="0.6" opacity="0.85"/>
<rect x="483.30" y="146.25" width="3.70" height="2.50" fill="#12987f"/>
<path d="M490.06 134.40V148.75" stroke="#12987f" stroke-width="0.6" opacity="0.85"/>
<rect x="488.21" y="138.50" width="3.70" height="8.40" fill="#12987f"/>
<path d="M494.98 134.40V151.90" stroke="#ee3a48" stroke-width="0.6" opacity="0.85"/>
<rect x="493.13" y="138.50" width="3.70" height="7.50" fill="#ee3a48"/>
<path d="M499.90 138.50V152.50" stroke="#12987f" stroke-width="0.6" opacity="0.85"/>
<rect x="498.05" y="141.00" width="3.70" height="5.00" fill="#12987f"/>
<path d="M504.82 116.90V145.00" stroke="#12987f" stroke-width="0.6" opacity="0.85"/>
<rect x="502.97" y="122.25" width="3.70" height="18.75" fill="#12987f"/>
<path d="M509.74 77.40V127.50" stroke="#12987f" stroke-width="0.6" opacity="0.85"/>
<rect x="507.89" y="85.25" width="3.70" height="37.25" fill="#12987f"/>
<path d="M514.65 62.40V88.00" stroke="#12987f" stroke-width="0.6" opacity="0.85"/>
<rect x="512.80" y="72.75" width="3.70" height="12.15" fill="#12987f"/>
<path d="M519.57 67.40V77.00" stroke="#ee3a48" stroke-width="0.6" opacity="0.85"/>
<rect x="517.72" y="72.75" width="3.70" height="1.00" fill="#ee3a48"/>
<path d="M524.49 57.40V74.20" stroke="#12987f" stroke-width="0.6" opacity="0.85"/>
<rect x="522.64" y="60.50" width="3.70" height="13.50" fill="#12987f"/>
<path d="M529.41 27.50V60.70" stroke="#12987f" stroke-width="0.6" opacity="0.85"/>
<rect x="527.56" y="54.90" width="3.70" height="5.60" fill="#12987f"/>
<path d="M534.33 54.70V86.75" stroke="#ee3a48" stroke-width="0.6" opacity="0.85"/>
<rect x="532.48" y="54.90" width="3.70" height="16.20" fill="#ee3a48"/>
<path d="M539.24 53.25V76.75" stroke="#12987f" stroke-width="0.6" opacity="0.85"/>
<rect x="537.39" y="64.00" width="3.70" height="7.10" fill="#12987f"/>
<path d="M544.16 46.10V73.00" stroke="#12987f" stroke-width="0.6" opacity="0.85"/>
<rect x="542.31" y="59.25" width="3.70" height="4.35" fill="#12987f"/>
<path d="M549.08 46.50V77.75" stroke="#ee3a48" stroke-width="0.6" opacity="0.85"/>
<rect x="547.23" y="59.25" width="3.70" height="10.25" fill="#ee3a48"/>
<path d="M554.00 64.90V74.00" stroke="#ee3a48" stroke-width="0.6" opacity="0.85"/>
<rect x="552.15" y="69.00" width="3.70" height="1.00" fill="#ee3a48"/>
<path d="M558.92 62.00V80.50" stroke="#ee3a48" stroke-width="0.6" opacity="0.85"/>
<rect x="557.07" y="69.90" width="3.70" height="4.60" fill="#ee3a48"/>
<path d="M563.83 56.10V79.90" stroke="#12987f" stroke-width="0.6" opacity="0.85"/>
<rect x="561.98" y="73.60" width="3.70" height="2.15" fill="#12987f"/>
<path d="M568.75 51.10V83.60" stroke="#12987f" stroke-width="0.6" opacity="0.85"/>
<rect x="566.90" y="54.00" width="3.70" height="19.60" fill="#12987f"/>
<path d="M573.67 51.75V74.00" stroke="#ee3a48" stroke-width="0.6" opacity="0.85"/>
<rect x="571.82" y="54.00" width="3.70" height="9.30" fill="#ee3a48"/>
<path d="M578.59 57.50V75.00" stroke="#ee3a48" stroke-width="0.6" opacity="0.85"/>
<rect x="576.74" y="63.10" width="3.70" height="3.40" fill="#ee3a48"/>
<path d="M583.51 65.80V96.50" stroke="#ee3a48" stroke-width="0.6" opacity="0.85"/>
<rect x="581.66" y="66.00" width="3.70" height="6.25" fill="#ee3a48"/>
<path d="M588.42 66.90V74.75" stroke="#12987f" stroke-width="0.6" opacity="0.85"/>
<rect x="586.57" y="70.00" width="3.70" height="2.50" fill="#12987f"/>
<path d="M593.34 55.25V69.60" stroke="#12987f" stroke-width="0.6" opacity="0.85"/>
<rect x="591.49" y="57.50" width="3.70" height="11.90" fill="#12987f"/>
<path d="M598.26 54.40V73.75" stroke="#ee3a48" stroke-width="0.6" opacity="0.85"/>
<rect x="596.41" y="57.50" width="3.70" height="11.50" fill="#ee3a48"/>
<path d="M603.18 59.40V77.50" stroke="#ee3a48" stroke-width="0.6" opacity="0.85"/>
<rect x="601.33" y="68.50" width="3.70" height="1.50" fill="#ee3a48"/>
<path d="M608.10 63.10V86.50" stroke="#ee3a48" stroke-width="0.6" opacity="0.85"/>
<rect x="606.25" y="69.75" width="3.70" height="1.15" fill="#ee3a48"/>
<path d="M613.01 61.90V88.00" stroke="#ee3a48" stroke-width="0.6" opacity="0.85"/>
<rect x="611.16" y="70.25" width="3.70" height="17.50" fill="#ee3a48"/>
<path d="M617.93 85.00V111.00" stroke="#ee3a48" stroke-width="0.6" opacity="0.85"/>
<rect x="616.08" y="87.25" width="3.70" height="20.00" fill="#ee3a48"/>
<path d="M622.85 101.90V116.50" stroke="#ee3a48" stroke-width="0.6" opacity="0.85"/>
<rect x="621.00" y="106.90" width="3.70" height="6.20" fill="#ee3a48"/>
<path d="M627.77 95.25V116.90" stroke="#12987f" stroke-width="0.6" opacity="0.85"/>
<rect x="625.92" y="99.00" width="3.70" height="14.10" fill="#12987f"/>
<path d="M632.69 87.25V99.60" stroke="#12987f" stroke-width="0.6" opacity="0.85"/>
<rect x="630.84" y="92.75" width="3.70" height="6.65" fill="#12987f"/>
<path d="M637.60 92.50V111.50" stroke="#ee3a48" stroke-width="0.6" opacity="0.85"/>
<rect x="635.75" y="92.75" width="3.70" height="7.50" fill="#ee3a48"/>
<path d="M642.52 87.25V106.00" stroke="#12987f" stroke-width="0.6" opacity="0.85"/>
<rect x="640.67" y="92.75" width="3.70" height="7.50" fill="#12987f"/>
<path d="M647.44 71.90V98.75" stroke="#12987f" stroke-width="0.6" opacity="0.85"/>
<rect x="645.59" y="72.90" width="3.70" height="20.20" fill="#12987f"/>
<path d="M652.36 71.90V86.00" stroke="#ee3a48" stroke-width="0.6" opacity="0.85"/>
<rect x="650.51" y="72.90" width="3.70" height="7.10" fill="#ee3a48"/>
<path d="M657.28 69.75V81.70" stroke="#ee3a48" stroke-width="0.6" opacity="0.85"/>
<rect x="655.43" y="79.40" width="3.70" height="2.10" fill="#ee3a48"/>
<path d="M662.19 58.90V81.20" stroke="#12987f" stroke-width="0.6" opacity="0.85"/>
<rect x="660.34" y="59.10" width="3.70" height="21.90" fill="#12987f"/>
<path d="M667.11 35.00V68.50" stroke="#ee3a48" stroke-width="0.6" opacity="0.85"/>
<rect x="665.26" y="59.10" width="3.70" height="4.65" fill="#ee3a48"/>
<path d="M672.03 51.25V67.25" stroke="#12987f" stroke-width="0.6" opacity="0.85"/>
<rect x="670.18" y="52.50" width="3.70" height="11.25" fill="#12987f"/>
<path d="M676.95 23.75V61.90" stroke="#12987f" stroke-width="0.6" opacity="0.85"/>
<rect x="675.10" y="26.50" width="3.70" height="26.00" fill="#12987f"/>
<path d="M681.87 17.75V75.60" stroke="#ee3a48" stroke-width="0.6" opacity="0.85"/>
<rect x="680.02" y="26.50" width="3.70" height="40.00" fill="#ee3a48"/>
<path d="M686.78 58.75V77.50" stroke="#ee3a48" stroke-width="0.6" opacity="0.85"/>
<rect x="684.93" y="66.50" width="3.70" height="7.25" fill="#ee3a48"/>
<path d="M691.70 68.75V74.20" stroke="#12987f" stroke-width="0.6" opacity="0.85"/>
<rect x="689.85" y="72.50" width="3.70" height="1.50" fill="#12987f"/>
<path d="M696.62 64.40V74.00" stroke="#12987f" stroke-width="0.6" opacity="0.85"/>
<rect x="694.77" y="72.50" width="3.70" height="1.25" fill="#12987f"/>
<path d="M701.54 71.00V95.25" stroke="#ee3a48" stroke-width="0.6" opacity="0.85"/>
<rect x="699.69" y="73.50" width="3.70" height="10.00" fill="#ee3a48"/>
<path d="M706.46 79.75V110.50" stroke="#ee3a48" stroke-width="0.6" opacity="0.85"/>
<rect x="704.61" y="82.75" width="3.70" height="27.50" fill="#ee3a48"/>
<path d="M711.37 96.25V113.50" stroke="#12987f" stroke-width="0.6" opacity="0.85"/>
<rect x="709.52" y="99.00" width="3.70" height="11.25" fill="#12987f"/>
<path d="M716.29 94.75V116.25" stroke="#ee3a48" stroke-width="0.6" opacity="0.85"/>
<rect x="714.44" y="99.00" width="3.70" height="14.10" fill="#ee3a48"/>
<path d="M721.21 73.10V118.75" stroke="#12987f" stroke-width="0.6" opacity="0.85"/>
<rect x="719.36" y="78.10" width="3.70" height="35.00" fill="#12987f"/>
<path d="M726.13 77.90V96.25" stroke="#ee3a48" stroke-width="0.6" opacity="0.85"/>
<rect x="724.28" y="78.10" width="3.70" height="11.90" fill="#ee3a48"/>
<path d="M731.05 88.50V126.90" stroke="#ee3a48" stroke-width="0.6" opacity="0.85"/>
<rect x="729.20" y="90.00" width="3.70" height="15.00" fill="#ee3a48"/>
<path d="M735.96 104.80V137.50" stroke="#ee3a48" stroke-width="0.6" opacity="0.85"/>
<rect x="734.11" y="105.00" width="3.70" height="26.50" fill="#ee3a48"/>
<path d="M740.88 113.50V142.25" stroke="#12987f" stroke-width="0.6" opacity="0.85"/>
<rect x="739.03" y="118.50" width="3.70" height="13.00" fill="#12987f"/>
<path d="M745.80 111.90V129.40" stroke="#ee3a48" stroke-width="0.6" opacity="0.85"/>
<rect x="743.95" y="118.50" width="3.70" height="4.00" fill="#ee3a48"/>
<path d="M750.72 105.25V125.25" stroke="#12987f" stroke-width="0.6" opacity="0.85"/>
<rect x="748.87" y="112.25" width="3.70" height="10.25" fill="#12987f"/>
<path d="M755.64 112.00V151.90" stroke="#ee3a48" stroke-width="0.6" opacity="0.85"/>
<rect x="753.79" y="112.25" width="3.70" height="33.35" fill="#ee3a48"/>
<path d="M760.55 140.60V152.50" stroke="#12987f" stroke-width="0.6" opacity="0.85"/>
<rect x="758.70" y="142.25" width="3.70" height="3.35" fill="#12987f"/>
<path d="M765.47 136.25V146.70" stroke="#ee3a48" stroke-width="0.6" opacity="0.85"/>
<rect x="763.62" y="142.25" width="3.70" height="4.25" fill="#ee3a48"/>
<path d="M770.39 133.10V153.75" stroke="#12987f" stroke-width="0.6" opacity="0.85"/>
<rect x="768.54" y="138.75" width="3.70" height="7.75" fill="#12987f"/>
<path d="M775.31 118.75V144.40" stroke="#12987f" stroke-width="0.6" opacity="0.85"/>
<rect x="773.46" y="123.10" width="3.70" height="15.65" fill="#12987f"/>
<path d="M780.23 111.90V127.50" stroke="#12987f" stroke-width="0.6" opacity="0.85"/>
<rect x="778.38" y="118.50" width="3.70" height="4.60" fill="#12987f"/>
<path d="M785.14 115.00V136.90" stroke="#ee3a48" stroke-width="0.6" opacity="0.85"/>
<rect x="783.29" y="118.50" width="3.70" height="8.40" fill="#ee3a48"/>
<path d="M790.06 105.60V130.25" stroke="#ee3a48" stroke-width="0.6" opacity="0.85"/>
<rect x="788.21" y="126.25" width="3.70" height="1.00" fill="#ee3a48"/>
<path d="M794.98 122.50V131.50" stroke="#ee3a48" stroke-width="0.6" opacity="0.85"/>
<rect x="793.13" y="127.50" width="3.70" height="3.75" fill="#ee3a48"/>
<path d="M799.90 121.25V131.20" stroke="#12987f" stroke-width="0.6" opacity="0.85"/>
<rect x="798.05" y="123.50" width="3.70" height="7.50" fill="#12987f"/>
<path d="M804.82 109.75V126.90" stroke="#12987f" stroke-width="0.6" opacity="0.85"/>
<rect x="802.97" y="116.25" width="3.70" height="7.25" fill="#12987f"/>
<path d="M809.73 106.90V125.60" stroke="#ee3a48" stroke-width="0.6" opacity="0.85"/>
<rect x="807.88" y="116.25" width="3.70" height="4.75" fill="#ee3a48"/>
<path d="M814.65 98.50V124.60" stroke="#12987f" stroke-width="0.6" opacity="0.85"/>
<rect x="812.80" y="101.25" width="3.70" height="19.75" fill="#12987f"/>
<path d="M819.57 88.80V104.40" stroke="#12987f" stroke-width="0.6" opacity="0.85"/>
<rect x="817.72" y="89.00" width="3.70" height="12.25" fill="#12987f"/>
<path d="M824.49 78.75V94.40" stroke="#12987f" stroke-width="0.6" opacity="0.85"/>
<rect x="822.64" y="84.40" width="3.70" height="4.60" fill="#12987f"/>
<path d="M829.41 82.25V91.25" stroke="#ee3a48" stroke-width="0.6" opacity="0.85"/>
<rect x="827.56" y="84.00" width="3.70" height="1.60" fill="#ee3a48"/>
<path d="M834.32 83.50V90.80" stroke="#ee3a48" stroke-width="0.6" opacity="0.85"/>
<rect x="832.47" y="85.40" width="3.70" height="5.20" fill="#ee3a48"/>
<path d="M839.24 79.00V97.25" stroke="#12987f" stroke-width="0.6" opacity="0.85"/>
<rect x="837.39" y="90.00" width="3.70" height="0.90" fill="#12987f"/>
<path d="M844.16 77.25V94.40" stroke="#12987f" stroke-width="0.6" opacity="0.85"/>
<rect x="842.31" y="78.75" width="3.70" height="11.50" fill="#12987f"/>
<path d="M849.08 75.25V94.40" stroke="#ee3a48" stroke-width="0.6" opacity="0.85"/>
<rect x="847.23" y="78.75" width="3.70" height="3.15" fill="#ee3a48"/>
<path d="M854.00 69.75V83.50" stroke="#12987f" stroke-width="0.6" opacity="0.85"/>
<rect x="852.15" y="76.00" width="3.70" height="5.90" fill="#12987f"/>
<path d="M858.91 73.50V91.25" stroke="#ee3a48" stroke-width="0.6" opacity="0.85"/>
<rect x="857.06" y="76.00" width="3.70" height="11.75" fill="#ee3a48"/>
<path d="M863.83 83.75V89.00" stroke="#12987f" stroke-width="0.6" opacity="0.85"/>
<rect x="861.98" y="86.90" width="3.70" height="0.85" fill="#12987f"/>
<path d="M868.75 86.70V90.80" stroke="#ee3a48" stroke-width="0.6" opacity="0.85"/>
<rect x="866.90" y="86.90" width="3.70" height="3.70" fill="#ee3a48"/>
<path d="M873.67 89.75V116.25" stroke="#ee3a48" stroke-width="0.6" opacity="0.85"/>
<rect x="871.82" y="91.00" width="3.70" height="19.60" fill="#ee3a48"/>
<path d="M878.59 106.50V120.25" stroke="#ee3a48" stroke-width="0.6" opacity="0.85"/>
<rect x="876.74" y="110.60" width="3.70" height="6.30" fill="#ee3a48"/>
<path d="M883.50 101.00V123.10" stroke="#12987f" stroke-width="0.6" opacity="0.85"/>
<rect x="881.65" y="106.00" width="3.70" height="10.90" fill="#12987f"/>
<path d="M888.42 104.40V142.25" stroke="#ee3a48" stroke-width="0.6" opacity="0.85"/>
<rect x="886.57" y="106.00" width="3.70" height="34.60" fill="#ee3a48"/>
<path d="M893.34 129.75V142.25" stroke="#12987f" stroke-width="0.6" opacity="0.85"/>
<rect x="891.49" y="135.00" width="3.70" height="5.60" fill="#12987f"/>
<path d="M898.26 134.20V140.00" stroke="#ee3a48" stroke-width="0.6" opacity="0.85"/>
<rect x="896.41" y="134.40" width="3.70" height="0.85" fill="#ee3a48"/>
<path d="M903.18 114.00V138.10" stroke="#12987f" stroke-width="0.6" opacity="0.85"/>
<rect x="901.33" y="115.25" width="3.70" height="19.75" fill="#12987f"/>
<path d="M908.09 97.50V119.60" stroke="#12987f" stroke-width="0.6" opacity="0.85"/>
<rect x="906.24" y="97.75" width="3.70" height="17.25" fill="#12987f"/>
<path d="M913.01 94.40V110.60" stroke="#ee3a48" stroke-width="0.6" opacity="0.85"/>
<rect x="911.16" y="98.50" width="3.70" height="2.10" fill="#ee3a48"/>
<path d="M917.93 63.80V100.80" stroke="#12987f" stroke-width="0.6" opacity="0.85"/>
<rect x="916.08" y="64.00" width="3.70" height="36.60" fill="#12987f"/>
<path d="M922.85 44.40V66.25" stroke="#12987f" stroke-width="0.6" opacity="0.85"/>
<rect x="921.00" y="48.50" width="3.70" height="15.50" fill="#12987f"/>
<path d="M927.77 21.90V58.50" stroke="#12987f" stroke-width="0.6" opacity="0.85"/>
<rect x="925.92" y="35.00" width="3.70" height="13.75" fill="#12987f"/>
<path d="M932.68 30.60V39.75" stroke="#ee3a48" stroke-width="0.6" opacity="0.85"/>
<rect x="930.83" y="35.00" width="3.70" height="1.25" fill="#ee3a48"/>
<path d="M523.9 27.2H984" stroke="#e040fb" stroke-width="1.15" fill="none"/>
<path d="M450.5 171.25L962.25 137.7" stroke="#e040fb" stroke-width="1.15" fill="none"/>
<text x="933.9" y="100.5" font-size="6.8" fill="#ffa726" textLength="37" lengthAdjust="spacingAndGlyphs">100-day SMA</text>
<text x="933.7" y="170" font-size="6.8" fill="#4a6cff" textLength="37" lengthAdjust="spacingAndGlyphs">200-day SMA</text>
<path d="M5.50 447.30 C5.85 447.41 13.90 449.88 14.60 450.20 C15.30 450.52 22.52 455.18 23.40 455.50 C24.28 455.82 36.41 458.68 37.10 458.40 C37.79 458.12 40.62 448.80 41.00 448.30 C41.38 447.80 46.48 445.70 46.90 445.70 C47.32 445.70 51.34 448.00 51.80 448.30 C52.26 448.60 57.57 453.10 58.60 453.50 C59.63 453.90 76.58 458.35 78.10 458.60 C79.62 458.85 96.25 459.89 97.70 460.00 C99.15 460.11 114.14 461.22 115.20 461.40 C116.26 461.58 123.86 464.35 125.00 464.50 C126.14 464.65 143.36 465.32 144.50 465.30 C145.64 465.28 153.69 464.01 154.30 463.90 C154.91 463.79 159.67 462.46 160.20 462.50 C160.73 462.54 167.47 464.87 168.00 464.90 C168.53 464.93 173.27 463.60 173.80 463.30 C174.33 463.00 181.07 457.33 181.60 457.10 C182.13 456.87 186.98 457.40 187.50 457.50 C188.02 457.60 194.41 459.38 195.00 459.60 C195.59 459.82 201.96 462.99 202.70 463.20 C203.44 463.41 213.46 465.18 214.10 465.00 C214.74 464.82 218.65 458.77 219.20 458.60 C219.75 458.43 227.55 460.70 228.10 460.70 C228.65 460.70 232.61 458.71 233.20 458.60 C233.79 458.49 242.69 457.85 243.30 457.90 C243.91 457.95 248.50 459.89 248.90 459.90 C249.30 459.91 252.73 457.97 253.50 458.10 C254.27 458.23 267.91 463.23 268.70 463.20 C269.49 463.17 273.06 457.53 273.80 457.40 C274.54 457.27 286.81 459.95 287.80 459.90 C288.79 459.85 298.36 456.47 299.20 456.10 C300.04 455.73 308.81 450.72 309.40 450.50 C309.99 450.28 313.71 450.36 314.40 450.50 C315.09 450.64 326.41 453.98 327.10 454.10 C327.79 454.22 331.80 453.97 332.20 453.60 C332.60 453.23 336.86 444.90 337.30 444.70 C337.74 444.50 343.01 448.25 343.60 448.50 C344.19 448.75 351.56 450.72 352.50 451.00 C353.44 451.28 366.86 455.90 367.80 455.60 C368.74 455.30 375.81 443.73 376.60 443.40 C377.39 443.07 387.50 446.92 388.10 447.20 C388.70 447.48 391.60 450.47 391.90 450.50 C392.20 450.53 395.16 448.00 395.70 448.00 C396.24 448.00 405.01 450.58 405.80 450.50 C406.59 450.42 415.40 446.23 416.00 445.90 C416.60 445.57 420.70 442.05 421.10 442.10 C421.50 442.15 425.51 446.87 426.20 447.20 C426.89 447.53 437.96 450.35 438.90 450.50 C439.84 450.65 449.37 450.93 450.20 451.00 C451.03 451.07 459.73 452.40 460.30 452.30 C460.87 452.20 464.35 448.47 464.90 448.50 C465.45 448.53 473.73 452.90 474.30 453.00 C474.87 453.10 478.81 451.01 479.40 451.00 C479.99 450.99 488.71 452.68 489.50 452.80 C490.29 452.92 498.86 453.79 499.70 454.10 C500.54 454.41 510.26 460.38 511.10 460.70 C511.94 461.02 520.61 462.25 521.30 462.40 C521.99 462.55 528.40 464.75 528.90 464.50 C529.40 464.25 533.50 456.35 534.00 456.10 C534.50 455.85 540.86 457.98 541.60 458.10 C542.34 458.22 552.36 459.11 553.00 459.10 C553.64 459.09 557.26 457.77 558.10 457.90 C558.94 458.03 573.81 462.22 574.60 462.40 C575.39 462.58 578.05 462.63 578.40 462.40 C578.75 462.17 582.95 456.78 583.50 456.60 C584.05 456.42 591.61 457.89 592.40 457.90 C593.19 457.91 602.96 457.07 603.80 456.90 C604.64 456.73 613.45 453.91 614.00 453.60 C614.55 453.29 617.46 449.20 617.80 449.00 C618.14 448.80 622.26 448.39 622.80 448.50 C623.34 448.61 631.15 451.80 631.70 451.80 C632.25 451.80 636.36 448.55 636.80 448.50 C637.24 448.45 642.36 450.25 643.10 450.50 C643.84 450.75 655.00 454.53 655.80 454.80 C656.60 455.07 662.70 457.10 663.50 457.40 C664.30 457.70 675.46 462.32 676.20 462.40 C676.94 462.48 681.96 459.50 682.50 459.40 C683.04 459.30 689.51 459.85 690.00 459.90 C690.49 459.95 694.55 461.05 695.10 460.70 C695.65 460.35 703.21 451.38 704.00 451.00 C704.79 450.62 714.56 450.80 715.40 451.00 C716.24 451.20 725.01 456.22 725.60 456.10 C726.19 455.98 730.16 448.35 730.60 448.00 C731.04 447.65 736.26 447.10 737.00 447.20 C737.74 447.30 748.98 450.58 749.70 450.50 C750.42 450.42 754.96 445.36 755.50 445.20 C756.04 445.04 763.03 446.35 763.60 446.40 C764.17 446.45 769.36 446.27 770.00 446.40 C770.64 446.53 779.51 449.62 780.10 449.70 C780.69 449.78 784.85 448.47 785.20 448.50 C785.55 448.53 788.45 450.38 789.00 450.50 C789.55 450.62 798.31 451.28 799.20 451.50 C800.09 451.72 810.91 455.82 811.90 456.10 C812.89 456.38 823.76 458.45 824.60 458.60 C825.44 458.75 833.00 459.90 833.50 459.90 C834.00 459.90 836.56 458.53 837.30 458.60 C838.04 458.67 851.61 461.68 852.50 461.70 C853.39 461.72 859.50 459.20 860.10 459.10 C860.70 459.00 867.30 459.49 867.80 459.10 C868.30 458.71 872.41 449.41 872.80 449.00 C873.19 448.59 877.50 448.44 877.90 448.50 C878.30 448.56 882.60 450.60 883.00 450.50 C883.40 450.40 887.51 446.00 888.10 445.90 C888.69 445.80 897.51 447.75 898.20 448.00 C898.89 448.25 905.20 451.98 905.80 452.30 C906.40 452.62 912.81 455.80 913.50 456.10 C914.19 456.40 923.01 459.68 923.60 459.90 C924.19 460.12 928.35 461.63 928.70 461.70 C929.05 461.77 932.35 461.70 932.50 461.70" fill="none" stroke="#ff6d00" stroke-width="1.1" stroke-linejoin="round" stroke-linecap="round" opacity="0.52"/>
<path d="M5.50 458.40 C5.78 458.41 12.08 458.88 12.70 458.60 C13.32 458.32 20.85 451.41 21.50 451.20 C22.15 450.99 28.80 453.14 29.30 453.20 C29.80 453.26 33.82 452.76 34.20 452.80 C34.58 452.84 38.58 453.90 39.00 454.10 C39.42 454.30 44.40 457.75 44.90 458.00 C45.40 458.25 51.30 460.64 51.80 460.60 C52.30 460.56 57.18 457.18 57.60 457.10 C58.02 457.02 61.93 458.69 62.50 458.60 C63.07 458.51 71.69 454.82 72.30 454.70 C72.91 454.58 77.57 455.45 78.10 455.50 C78.63 455.55 84.98 456.00 85.90 456.10 C86.82 456.20 100.80 457.96 101.60 458.00 C102.40 458.04 106.02 457.12 106.40 457.10 C106.78 457.08 110.73 458.25 111.30 457.60 C111.87 456.95 120.53 441.17 121.10 440.50 C121.67 439.83 125.62 440.41 126.00 440.50 C126.38 440.59 130.52 442.82 130.90 442.80 C131.28 442.78 135.17 440.12 135.70 440.10 C136.23 440.08 143.54 442.08 144.50 442.40 C145.46 442.72 159.36 448.26 160.20 448.30 C161.04 448.34 165.47 443.57 166.00 443.40 C166.53 443.23 173.07 443.83 173.80 444.00 C174.53 444.17 183.95 447.67 184.60 447.70 C185.25 447.73 189.99 444.94 190.40 444.80 C190.81 444.66 194.72 444.75 195.10 444.20 C195.48 443.65 199.51 431.08 200.20 430.70 C200.89 430.32 212.11 434.10 212.90 434.50 C213.69 434.90 219.71 440.44 220.50 440.90 C221.29 441.36 232.31 446.15 233.20 446.40 C234.09 446.65 242.69 447.39 243.30 447.20 C243.91 447.00 248.50 441.50 248.90 441.40 C249.30 441.30 253.12 444.47 253.50 444.70 C253.88 444.93 258.16 447.37 258.60 447.20 C259.04 447.03 264.51 440.60 264.90 440.30 C265.29 440.00 268.30 439.45 268.70 439.60 C269.10 439.75 274.55 443.88 275.10 444.20 C275.65 444.52 282.20 447.63 282.70 447.70 C283.20 447.77 287.16 445.79 287.80 445.90 C288.44 446.01 298.36 450.17 299.20 450.50 C300.04 450.83 308.81 454.13 309.40 454.30 C309.99 454.47 314.01 454.85 314.40 454.80 C314.79 454.75 319.10 453.02 319.50 453.00 C319.90 452.98 324.10 454.30 324.60 454.30 C325.10 454.30 331.51 452.81 332.20 453.00 C332.89 453.19 341.61 458.93 342.40 459.10 C343.19 459.27 351.96 457.81 352.50 457.40 C353.04 456.99 355.70 448.72 356.30 448.50 C356.90 448.28 366.96 451.52 367.80 451.80 C368.64 452.08 377.16 455.41 377.90 455.60 C378.64 455.79 386.21 456.80 386.80 456.60 C387.39 456.40 392.55 450.62 393.10 450.50 C393.65 450.38 400.20 453.41 400.80 453.60 C401.40 453.79 407.61 455.02 408.40 455.30 C409.19 455.58 420.36 460.69 421.10 460.70 C421.84 460.71 427.01 455.78 427.40 455.60 C427.79 455.42 430.85 456.23 431.20 456.10 C431.55 455.97 435.56 452.38 436.30 452.30 C437.04 452.22 449.36 454.13 450.20 454.10 C451.04 454.07 457.21 451.49 457.80 451.50 C458.39 451.51 464.90 454.37 465.40 454.30 C465.90 454.23 470.10 449.90 470.50 449.70 C470.90 449.50 475.10 449.13 475.60 449.20 C476.10 449.27 482.66 451.53 483.20 451.50 C483.74 451.47 488.86 448.50 489.50 448.50 C490.14 448.50 498.91 452.05 499.70 451.50 C500.49 450.95 509.21 435.23 509.80 434.50 C510.39 433.77 514.50 432.72 514.90 432.70 C515.30 432.68 519.60 434.03 520.00 434.00 C520.40 433.97 524.73 432.31 525.10 432.00 C525.47 431.69 529.01 426.10 529.40 426.10 C529.79 426.10 534.68 431.64 535.20 432.00 C535.72 432.36 542.25 435.03 542.80 435.30 C543.35 435.57 548.36 438.50 549.20 438.80 C550.04 439.10 563.41 442.57 564.40 442.90 C565.39 443.23 573.81 446.86 574.60 447.20 C575.39 447.54 584.15 451.33 584.70 451.50 C585.25 451.67 588.27 451.62 588.60 451.50 C588.93 451.38 592.56 448.47 593.10 448.50 C593.64 448.53 601.74 452.00 602.50 452.30 C603.26 452.60 611.91 455.85 612.70 456.10 C613.49 456.35 622.01 458.62 622.80 458.60 C623.59 458.58 632.31 455.68 633.00 455.60 C633.69 455.52 640.05 456.73 640.60 456.60 C641.15 456.47 646.41 452.45 647.00 452.30 C647.59 452.15 655.21 452.90 655.80 452.80 C656.39 452.70 661.77 450.05 662.20 449.70 C662.63 449.35 666.43 444.07 666.80 443.90 C667.17 443.73 671.23 445.59 671.60 445.40 C671.97 445.21 675.77 439.11 676.20 439.10 C676.63 439.09 682.00 444.88 682.50 445.20 C683.00 445.52 688.41 447.12 688.90 447.20 C689.39 447.28 694.56 447.07 695.10 447.20 C695.64 447.33 701.91 450.20 702.70 450.50 C703.49 450.80 714.71 454.80 715.40 454.80 C716.09 454.80 720.06 450.60 720.50 450.50 C720.94 450.40 726.21 452.03 726.80 452.30 C727.39 452.57 734.91 457.15 735.70 457.40 C736.49 457.65 746.21 458.55 747.10 458.60 C747.99 458.65 757.86 458.60 758.60 458.60 C759.34 458.60 765.76 458.53 766.20 458.60 C766.64 458.67 769.56 460.52 770.00 460.40 C770.44 460.28 777.01 455.77 777.60 455.60 C778.19 455.43 784.41 456.08 785.20 456.10 C785.99 456.12 797.11 456.25 797.90 456.10 C798.69 455.95 804.95 452.45 805.50 452.30 C806.05 452.15 811.16 452.53 811.90 452.30 C812.64 452.07 823.76 446.55 824.60 446.40 C825.44 446.25 832.91 448.34 833.50 448.50 C834.09 448.66 839.21 450.35 839.80 450.50 C840.39 450.65 848.20 452.26 848.70 452.30 C849.20 452.34 852.06 451.45 852.50 451.50 C852.94 451.55 859.50 453.47 860.10 453.60 C860.70 453.73 867.11 454.65 867.80 454.80 C868.49 454.95 877.26 457.30 877.90 457.40 C878.54 457.50 883.80 457.27 884.30 457.40 C884.80 457.53 890.06 460.55 890.60 460.70 C891.14 460.85 897.61 461.63 898.20 461.20 C898.79 460.77 905.25 450.20 905.80 449.70 C906.35 449.20 911.75 448.89 912.20 448.50 C912.65 448.11 916.86 440.22 917.30 439.60 C917.74 438.98 923.16 433.10 923.60 432.70 C924.04 432.30 928.35 429.48 928.70 429.40 C929.05 429.32 932.35 430.65 932.50 430.70" fill="none" stroke="#2962ff" stroke-width="1.1" stroke-linejoin="round" stroke-linecap="round" opacity="0.52"/>
<path d="M5.50 449.25 C6.96 449.49 16.02 451.10 19.50 451.60 C22.98 452.10 35.74 453.93 39.00 454.10 C42.26 454.27 47.74 452.93 50.80 453.20 C53.86 453.47 64.54 456.10 68.40 456.70 C72.26 457.30 84.04 458.59 87.90 459.00 C91.76 459.41 102.66 460.43 105.50 460.60 C108.34 460.77 112.96 461.37 115.20 460.60 C117.44 459.83 124.36 454.69 127.00 453.20 C129.64 451.71 137.56 447.49 140.60 446.30 C143.64 445.11 152.80 442.67 156.25 441.80 C159.70 440.93 170.76 438.14 173.80 437.90 C176.84 437.66 183.28 439.25 185.50 439.50 C187.72 439.75 192.13 441.01 195.10 440.30 C198.07 439.59 210.67 433.39 214.10 432.70 C217.53 432.01 225.32 433.38 228.10 433.70 C230.88 434.02 237.63 435.37 240.80 435.80 C243.97 436.23 255.70 437.85 258.60 437.80 C261.50 437.75 265.27 435.25 268.70 435.30 C272.13 435.35 287.37 437.20 291.60 438.30 C295.83 439.40 305.71 444.44 309.40 445.90 C313.09 447.36 323.67 451.63 327.10 452.30 C330.53 452.97 339.23 452.11 342.40 452.30 C345.57 452.49 354.44 453.65 357.60 454.10 C360.76 454.55 369.11 456.26 372.80 456.60 C376.49 456.94 389.14 457.19 393.10 457.40 C397.06 457.61 407.99 458.82 410.90 458.60 C413.81 458.38 418.72 455.56 421.10 455.30 C423.48 455.04 431.83 455.88 433.80 456.10 C435.77 456.32 437.77 456.92 440.00 457.40 C442.23 457.88 452.03 460.18 455.20 460.70 C458.37 461.22 467.33 462.04 470.50 462.40 C473.67 462.76 482.66 463.88 485.70 464.20 C488.74 464.52 497.59 465.55 499.70 465.50 C501.81 465.45 504.28 464.68 506.00 463.70 C507.72 462.72 513.82 457.63 516.20 456.10 C518.58 454.57 526.26 450.11 528.90 449.00 C531.54 447.89 538.96 445.98 541.60 445.40 C544.24 444.82 551.66 443.74 554.30 443.40 C556.94 443.06 564.49 442.31 567.00 442.10 C569.51 441.89 576.29 441.26 578.40 441.40 C580.51 441.54 584.79 442.88 587.30 443.40 C589.81 443.92 599.33 445.61 602.50 446.40 C605.67 447.19 614.63 450.39 617.80 451.00 C620.97 451.61 630.37 451.98 633.00 452.30 C635.63 452.62 640.73 453.57 643.10 454.10 C645.47 454.63 653.68 457.06 655.80 457.40 C657.92 457.74 661.38 457.86 663.50 457.40 C665.62 456.94 673.44 453.67 676.20 453.00 C678.96 452.33 687.77 451.21 690.00 451.00 C692.23 450.79 694.96 450.60 697.60 451.00 C700.24 451.40 711.70 454.13 715.40 454.80 C719.10 455.47 729.77 457.26 733.20 457.40 C736.63 457.54 744.57 456.63 748.40 456.10 C752.23 455.57 765.51 452.38 770.00 452.30 C774.49 452.22 786.98 454.64 791.60 455.30 C796.22 455.96 810.18 458.46 814.40 458.60 C818.62 458.74 828.24 456.91 832.20 456.60 C836.16 456.29 848.28 455.65 852.50 455.60 C856.72 455.55 869.37 456.18 872.80 456.10 C876.23 456.02 882.86 455.12 885.50 454.80 C888.14 454.48 895.56 452.92 898.20 453.00 C900.84 453.08 908.52 455.62 910.90 455.60 C913.28 455.58 918.85 453.67 921.10 452.80 C923.35 451.93 931.31 447.78 932.50 447.20" fill="none" stroke="#f50057" stroke-width="1.1" stroke-linejoin="round" stroke-linecap="round" opacity="0.52"/>
<path d="M5 503.5H982" stroke="#9598a1" stroke-width="0.6" stroke-dasharray="3 4" fill="none"/>
<rect x="5.95" y="502.90" width="4.3" height="0.60" fill="#22ab94"/>
<rect x="10.87" y="503.30" width="4.3" height="0.20" fill="#ace5dc"/>
<rect x="15.79" y="502.10" width="4.3" height="1.40" fill="#22ab94"/>
<rect x="20.70" y="503.30" width="4.3" height="0.20" fill="#ace5dc"/>
<rect x="25.62" y="503.20" width="4.3" height="0.30" fill="#ace5dc"/>
<rect x="30.54" y="502.90" width="4.3" height="0.60" fill="#22ab94"/>
<rect x="35.46" y="502.90" width="4.3" height="0.60" fill="#22ab94"/>
<rect x="40.38" y="503.50" width="4.3" height="1.50" fill="#f0504e"/>
<rect x="45.29" y="503.50" width="4.3" height="2.00" fill="#f0504e"/>
<rect x="50.21" y="503.50" width="4.3" height="4.00" fill="#f0504e"/>
<rect x="55.13" y="503.50" width="4.3" height="2.00" fill="#fccbcd"/>
<rect x="60.05" y="503.50" width="4.3" height="1.50" fill="#fccbcd"/>
<rect x="64.97" y="503.50" width="4.3" height="0.30" fill="#fccbcd"/>
<rect x="69.88" y="501.50" width="4.3" height="2.00" fill="#22ab94"/>
<rect x="74.80" y="501.00" width="4.3" height="2.50" fill="#22ab94"/>
<rect x="79.72" y="500.50" width="4.3" height="3.00" fill="#22ab94"/>
<rect x="84.64" y="500.50" width="4.3" height="3.00" fill="#ace5dc"/>
<rect x="89.56" y="500.50" width="4.3" height="3.00" fill="#ace5dc"/>
<rect x="94.47" y="500.30" width="4.3" height="3.20" fill="#22ab94"/>
<rect x="99.39" y="500.50" width="4.3" height="3.00" fill="#ace5dc"/>
<rect x="104.31" y="500.50" width="4.3" height="3.00" fill="#ace5dc"/>
<rect x="109.23" y="500.50" width="4.3" height="3.00" fill="#ace5dc"/>
<rect x="114.15" y="499.50" width="4.3" height="4.00" fill="#22ab94"/>
<rect x="119.06" y="496.30" width="4.3" height="7.20" fill="#22ab94"/>
<rect x="123.98" y="495.00" width="4.3" height="8.50" fill="#22ab94"/>
<rect x="128.90" y="494.50" width="4.3" height="9.00" fill="#22ab94"/>
<rect x="133.82" y="494.30" width="4.3" height="9.20" fill="#22ab94"/>
<rect x="138.74" y="495.00" width="4.3" height="8.50" fill="#ace5dc"/>
<rect x="143.65" y="496.00" width="4.3" height="7.50" fill="#ace5dc"/>
<rect x="148.57" y="496.50" width="4.3" height="7.00" fill="#ace5dc"/>
<rect x="153.49" y="497.50" width="4.3" height="6.00" fill="#ace5dc"/>
<rect x="158.41" y="498.50" width="4.3" height="5.00" fill="#ace5dc"/>
<rect x="163.33" y="499.00" width="4.3" height="4.50" fill="#ace5dc"/>
<rect x="168.24" y="499.50" width="4.3" height="4.00" fill="#ace5dc"/>
<rect x="173.16" y="500.50" width="4.3" height="3.00" fill="#ace5dc"/>
<rect x="178.08" y="502.00" width="4.3" height="1.50" fill="#ace5dc"/>
<rect x="183.00" y="503.20" width="4.3" height="0.30" fill="#ace5dc"/>
<rect x="187.92" y="503.10" width="4.3" height="0.40" fill="#22ab94"/>
<rect x="192.83" y="502.50" width="4.3" height="1.00" fill="#22ab94"/>
<rect x="197.75" y="500.50" width="4.3" height="3.00" fill="#22ab94"/>
<rect x="202.67" y="499.50" width="4.3" height="4.00" fill="#22ab94"/>
<rect x="207.59" y="499.00" width="4.3" height="4.50" fill="#22ab94"/>
<rect x="212.51" y="499.50" width="4.3" height="4.00" fill="#ace5dc"/>
<rect x="217.42" y="500.00" width="4.3" height="3.50" fill="#ace5dc"/>
<rect x="222.34" y="500.50" width="4.3" height="3.00" fill="#ace5dc"/>
<rect x="227.26" y="501.20" width="4.3" height="2.30" fill="#ace5dc"/>
<rect x="232.18" y="502.50" width="4.3" height="1.00" fill="#ace5dc"/>
<rect x="237.10" y="503.00" width="4.3" height="0.50" fill="#ace5dc"/>
<rect x="242.01" y="503.50" width="4.3" height="1.00" fill="#f0504e"/>
<rect x="246.93" y="503.30" width="4.3" height="0.20" fill="#22ab94"/>
<rect x="251.85" y="503.50" width="4.3" height="0.50" fill="#f0504e"/>
<rect x="256.77" y="503.20" width="4.3" height="0.30" fill="#22ab94"/>
<rect x="261.69" y="502.00" width="4.3" height="1.50" fill="#22ab94"/>
<rect x="266.60" y="501.00" width="4.3" height="2.50" fill="#22ab94"/>
<rect x="271.52" y="503.00" width="4.3" height="0.50" fill="#ace5dc"/>
<rect x="276.44" y="503.50" width="4.3" height="0.50" fill="#f0504e"/>
<rect x="281.36" y="503.50" width="4.3" height="1.00" fill="#f0504e"/>
<rect x="286.28" y="503.50" width="4.3" height="1.00" fill="#f0504e"/>
<rect x="291.19" y="503.50" width="4.3" height="1.50" fill="#f0504e"/>
<rect x="296.11" y="503.50" width="4.3" height="3.00" fill="#f0504e"/>
<rect x="301.03" y="503.50" width="4.3" height="5.00" fill="#f0504e"/>
<rect x="305.95" y="503.50" width="4.3" height="6.00" fill="#f0504e"/>
<rect x="310.87" y="503.50" width="4.3" height="6.30" fill="#f0504e"/>
<rect x="315.78" y="503.50" width="4.3" height="6.00" fill="#fccbcd"/>
<rect x="320.70" y="503.50" width="4.3" height="5.50" fill="#fccbcd"/>
<rect x="325.62" y="503.50" width="4.3" height="5.50" fill="#fccbcd"/>
<rect x="330.54" y="503.50" width="4.3" height="6.00" fill="#f0504e"/>
<rect x="335.46" y="503.50" width="4.3" height="7.50" fill="#f0504e"/>
<rect x="340.37" y="503.50" width="4.3" height="6.50" fill="#fccbcd"/>
<rect x="345.29" y="503.50" width="4.3" height="5.50" fill="#fccbcd"/>
<rect x="350.21" y="503.50" width="4.3" height="4.00" fill="#fccbcd"/>
<rect x="355.13" y="503.50" width="4.3" height="2.00" fill="#fccbcd"/>
<rect x="360.05" y="503.50" width="4.3" height="0.20" fill="#fccbcd"/>
<rect x="364.96" y="502.50" width="4.3" height="1.00" fill="#22ab94"/>
<rect x="369.88" y="503.50" width="4.3" height="0.80" fill="#f0504e"/>
<rect x="374.80" y="503.50" width="4.3" height="1.50" fill="#f0504e"/>
<rect x="379.72" y="503.50" width="4.3" height="2.30" fill="#f0504e"/>
<rect x="384.64" y="503.50" width="4.3" height="2.50" fill="#f0504e"/>
<rect x="389.55" y="503.50" width="4.3" height="2.00" fill="#fccbcd"/>
<rect x="394.47" y="503.50" width="4.3" height="3.00" fill="#f0504e"/>
<rect x="399.39" y="503.50" width="4.3" height="3.30" fill="#f0504e"/>
<rect x="404.31" y="503.50" width="4.3" height="3.50" fill="#f0504e"/>
<rect x="409.23" y="503.50" width="4.3" height="4.00" fill="#f0504e"/>
<rect x="414.14" y="503.50" width="4.3" height="4.50" fill="#f0504e"/>
<rect x="419.06" y="503.50" width="4.3" height="5.50" fill="#f0504e"/>
<rect x="423.98" y="503.50" width="4.3" height="2.50" fill="#fccbcd"/>
<rect x="428.90" y="503.50" width="4.3" height="1.00" fill="#fccbcd"/>
<rect x="433.82" y="503.00" width="4.3" height="0.50" fill="#22ab94"/>
<rect x="438.73" y="502.50" width="4.3" height="1.00" fill="#22ab94"/>
<rect x="443.65" y="502.20" width="4.3" height="1.30" fill="#22ab94"/>
<rect x="448.57" y="502.00" width="4.3" height="1.50" fill="#22ab94"/>
<rect x="453.49" y="501.50" width="4.3" height="2.00" fill="#22ab94"/>
<rect x="458.41" y="502.50" width="4.3" height="1.00" fill="#ace5dc"/>
<rect x="463.32" y="503.00" width="4.3" height="0.50" fill="#ace5dc"/>
<rect x="468.24" y="501.50" width="4.3" height="2.00" fill="#22ab94"/>
<rect x="473.16" y="501.00" width="4.3" height="2.50" fill="#22ab94"/>
<rect x="478.08" y="502.00" width="4.3" height="1.50" fill="#ace5dc"/>
<rect x="483.00" y="502.30" width="4.3" height="1.20" fill="#ace5dc"/>
<rect x="487.91" y="501.50" width="4.3" height="2.00" fill="#22ab94"/>
<rect x="492.83" y="502.50" width="4.3" height="1.00" fill="#ace5dc"/>
<rect x="497.75" y="502.50" width="4.3" height="1.00" fill="#ace5dc"/>
<rect x="502.67" y="501.50" width="4.3" height="2.00" fill="#22ab94"/>
<rect x="507.59" y="499.50" width="4.3" height="4.00" fill="#22ab94"/>
<rect x="512.50" y="497.50" width="4.3" height="6.00" fill="#22ab94"/>
<rect x="517.42" y="496.50" width="4.3" height="7.00" fill="#22ab94"/>
<rect x="522.34" y="496.00" width="4.3" height="7.50" fill="#22ab94"/>
<rect x="527.26" y="495.50" width="4.3" height="8.00" fill="#22ab94"/>
<rect x="532.18" y="497.00" width="4.3" height="6.50" fill="#ace5dc"/>
<rect x="537.09" y="498.00" width="4.3" height="5.50" fill="#ace5dc"/>
<rect x="542.01" y="498.50" width="4.3" height="5.00" fill="#ace5dc"/>
<rect x="546.93" y="500.00" width="4.3" height="3.50" fill="#ace5dc"/>
<rect x="551.85" y="501.00" width="4.3" height="2.50" fill="#ace5dc"/>
<rect x="556.77" y="502.50" width="4.3" height="1.00" fill="#ace5dc"/>
<rect x="561.68" y="503.50" width="4.3" height="0.20" fill="#f0504e"/>
<rect x="566.60" y="503.50" width="4.3" height="0.30" fill="#f0504e"/>
<rect x="571.52" y="503.50" width="4.3" height="1.00" fill="#f0504e"/>
<rect x="576.44" y="503.50" width="4.3" height="1.50" fill="#f0504e"/>
<rect x="581.36" y="503.50" width="4.3" height="2.00" fill="#f0504e"/>
<rect x="586.27" y="503.50" width="4.3" height="2.30" fill="#f0504e"/>
<rect x="591.19" y="503.50" width="4.3" height="2.00" fill="#fccbcd"/>
<rect x="596.11" y="503.50" width="4.3" height="2.50" fill="#f0504e"/>
<rect x="601.03" y="503.50" width="4.3" height="3.00" fill="#f0504e"/>
<rect x="605.95" y="503.50" width="4.3" height="3.30" fill="#f0504e"/>
<rect x="610.86" y="503.50" width="4.3" height="4.00" fill="#f0504e"/>
<rect x="615.78" y="503.50" width="4.3" height="6.00" fill="#f0504e"/>
<rect x="620.70" y="503.50" width="4.3" height="7.50" fill="#f0504e"/>
<rect x="625.62" y="503.50" width="4.3" height="7.00" fill="#fccbcd"/>
<rect x="630.54" y="503.50" width="4.3" height="6.00" fill="#fccbcd"/>
<rect x="635.45" y="503.50" width="4.3" height="6.00" fill="#fccbcd"/>
<rect x="640.37" y="503.50" width="4.3" height="5.00" fill="#fccbcd"/>
<rect x="645.29" y="503.50" width="4.3" height="3.00" fill="#fccbcd"/>
<rect x="650.21" y="503.50" width="4.3" height="2.50" fill="#fccbcd"/>
<rect x="655.13" y="503.50" width="4.3" height="2.00" fill="#fccbcd"/>
<rect x="660.04" y="503.50" width="4.3" height="0.30" fill="#fccbcd"/>
<rect x="664.96" y="502.70" width="4.3" height="0.80" fill="#22ab94"/>
<rect x="669.88" y="501.50" width="4.3" height="2.00" fill="#22ab94"/>
<rect x="674.80" y="500.00" width="4.3" height="3.50" fill="#22ab94"/>
<rect x="679.72" y="501.00" width="4.3" height="2.50" fill="#ace5dc"/>
<rect x="684.63" y="502.00" width="4.3" height="1.50" fill="#ace5dc"/>
<rect x="689.55" y="503.20" width="4.3" height="0.30" fill="#ace5dc"/>
<rect x="694.47" y="503.50" width="4.3" height="1.00" fill="#f0504e"/>
<rect x="699.39" y="503.50" width="4.3" height="2.00" fill="#f0504e"/>
<rect x="704.31" y="503.50" width="4.3" height="3.50" fill="#f0504e"/>
<rect x="709.22" y="503.50" width="4.3" height="4.00" fill="#f0504e"/>
<rect x="714.14" y="503.50" width="4.3" height="5.00" fill="#f0504e"/>
<rect x="719.06" y="503.50" width="4.3" height="3.50" fill="#fccbcd"/>
<rect x="723.98" y="503.50" width="4.3" height="3.00" fill="#fccbcd"/>
<rect x="728.90" y="503.50" width="4.3" height="3.50" fill="#f0504e"/>
<rect x="733.81" y="503.50" width="4.3" height="4.50" fill="#f0504e"/>
<rect x="738.73" y="503.50" width="4.3" height="4.00" fill="#fccbcd"/>
<rect x="743.65" y="503.50" width="4.3" height="4.00" fill="#fccbcd"/>
<rect x="748.57" y="503.50" width="4.3" height="3.50" fill="#fccbcd"/>
<rect x="753.49" y="503.50" width="4.3" height="5.00" fill="#f0504e"/>
<rect x="758.40" y="503.50" width="4.3" height="5.30" fill="#f0504e"/>
<rect x="763.32" y="503.50" width="4.3" height="5.30" fill="#f0504e"/>
<rect x="768.24" y="503.50" width="4.3" height="4.00" fill="#fccbcd"/>
<rect x="773.16" y="503.50" width="4.3" height="2.00" fill="#fccbcd"/>
<rect x="778.08" y="503.50" width="4.3" height="1.00" fill="#fccbcd"/>
<rect x="782.99" y="503.50" width="4.3" height="0.50" fill="#fccbcd"/>
<rect x="787.91" y="503.50" width="4.3" height="0.30" fill="#fccbcd"/>
<rect x="792.83" y="503.30" width="4.3" height="0.20" fill="#22ab94"/>
<rect x="797.75" y="503.00" width="4.3" height="0.50" fill="#22ab94"/>
<rect x="802.67" y="502.00" width="4.3" height="1.50" fill="#22ab94"/>
<rect x="807.58" y="502.00" width="4.3" height="1.50" fill="#22ab94"/>
<rect x="812.50" y="500.50" width="4.3" height="3.00" fill="#22ab94"/>
<rect x="817.42" y="499.00" width="4.3" height="4.50" fill="#22ab94"/>
<rect x="822.34" y="498.50" width="4.3" height="5.00" fill="#22ab94"/>
<rect x="827.26" y="498.00" width="4.3" height="5.50" fill="#22ab94"/>
<rect x="832.17" y="498.50" width="4.3" height="5.00" fill="#ace5dc"/>
<rect x="837.09" y="499.00" width="4.3" height="4.50" fill="#ace5dc"/>
<rect x="842.01" y="498.50" width="4.3" height="5.00" fill="#22ab94"/>
<rect x="846.93" y="499.00" width="4.3" height="4.50" fill="#ace5dc"/>
<rect x="851.85" y="499.00" width="4.3" height="4.50" fill="#ace5dc"/>
<rect x="856.76" y="500.00" width="4.3" height="3.50" fill="#ace5dc"/>
<rect x="861.68" y="500.50" width="4.3" height="3.00" fill="#ace5dc"/>
<rect x="866.60" y="501.50" width="4.3" height="2.00" fill="#ace5dc"/>
<rect x="871.52" y="503.30" width="4.3" height="0.20" fill="#ace5dc"/>
<rect x="876.44" y="503.50" width="4.3" height="1.00" fill="#f0504e"/>
<rect x="881.35" y="503.50" width="4.3" height="1.50" fill="#f0504e"/>
<rect x="886.27" y="503.50" width="4.3" height="3.50" fill="#f0504e"/>
<rect x="891.19" y="503.50" width="4.3" height="4.50" fill="#f0504e"/>
<rect x="896.11" y="503.50" width="4.3" height="4.50" fill="#f0504e"/>
<rect x="901.03" y="503.50" width="4.3" height="2.00" fill="#fccbcd"/>
<rect x="905.94" y="503.50" width="4.3" height="0.50" fill="#fccbcd"/>
<rect x="910.86" y="503.20" width="4.3" height="0.30" fill="#22ab94"/>
<rect x="915.78" y="501.00" width="4.3" height="2.50" fill="#22ab94"/>
<rect x="920.70" y="499.00" width="4.3" height="4.50" fill="#22ab94"/>
<rect x="925.62" y="497.50" width="4.3" height="6.00" fill="#22ab94"/>
<rect x="930.53" y="496.00" width="4.3" height="7.50" fill="#22ab94"/>
<path d="M5.50 510.60 C7.87 510.50 14.16 510.17 19.50 510.00 C24.84 509.83 31.81 509.18 37.10 509.60 C42.39 510.02 46.17 511.94 50.80 512.50 C55.43 513.06 59.23 513.32 64.50 512.90 C69.77 512.48 76.39 510.98 82.00 510.00 C87.61 509.02 92.75 508.10 97.70 507.10 C102.65 506.10 106.69 505.27 111.30 504.10 C115.91 502.93 120.71 501.69 125.00 500.20 C129.29 498.71 132.75 496.85 136.70 495.30 C140.65 493.75 144.43 492.15 148.40 491.00 C152.37 489.85 156.23 489.31 160.20 488.50 C164.17 487.69 167.95 486.76 171.90 486.20 C175.85 485.64 180.54 485.35 183.60 485.20 C186.16 485.07 187.47 485.68 190.00 485.30 C193.65 484.76 200.05 483.00 205.20 482.00 C210.35 481.00 214.48 479.92 220.50 479.40 C226.52 478.88 233.94 479.02 240.80 478.90 C247.66 478.78 255.10 478.92 261.10 478.70 C267.10 478.48 270.28 477.60 276.30 477.60 C282.32 477.60 290.68 477.96 296.70 478.70 C302.72 479.44 306.76 480.60 311.90 482.00 C317.04 483.40 321.95 485.38 327.10 487.00 C332.25 488.62 338.11 490.43 342.40 491.60 C346.40 492.69 348.37 493.53 352.50 493.90 C356.79 494.29 362.65 493.65 367.80 493.90 C372.95 494.15 377.86 494.84 383.00 495.40 C388.14 495.96 393.05 496.34 398.20 497.20 C403.35 498.06 409.21 499.64 413.50 500.50 C417.52 501.31 420.17 501.88 423.60 502.30 C427.03 502.72 431.03 502.92 433.80 503.00 C436.28 503.08 437.52 502.96 440.00 502.80 C445.34 502.46 456.81 501.73 465.40 501.00 C473.99 500.27 483.94 499.23 490.80 498.50 C496.89 497.86 500.85 497.78 506.00 496.70 C511.15 495.62 516.15 493.74 521.30 492.10 C526.45 490.46 531.78 488.28 536.50 487.00 C541.22 485.72 544.91 485.06 549.20 484.50 C553.49 483.94 557.18 483.70 561.90 483.70 C566.62 483.70 571.95 484.15 577.10 484.50 C582.25 484.85 587.25 485.16 592.40 485.80 C597.55 486.44 602.46 487.10 607.60 488.30 C612.74 489.50 617.65 491.48 622.80 492.90 C627.95 494.32 633.37 495.67 638.10 496.70 C642.83 497.73 646.51 498.58 650.80 499.00 C655.09 499.42 659.21 499.50 663.50 499.20 C667.79 498.90 671.72 497.54 676.20 497.20 C680.68 496.86 685.52 496.98 690.00 497.20 C694.48 497.42 698.41 497.86 702.70 498.50 C706.99 499.14 710.68 499.94 715.40 501.00 C720.12 502.06 725.45 503.52 730.60 504.80 C735.75 506.08 740.75 507.43 745.90 508.60 C751.05 509.77 756.38 510.92 761.10 511.70 C765.82 512.48 768.69 512.95 773.80 513.20 C778.95 513.45 786.45 513.34 791.60 513.20 C796.69 513.07 800.01 512.96 804.30 512.40 C808.59 511.84 812.71 510.88 817.00 509.90 C821.29 508.92 825.41 507.66 829.70 506.60 C833.99 505.54 838.11 504.63 842.40 503.60 C846.69 502.57 850.81 501.16 855.10 500.50 C859.39 499.84 863.52 499.70 867.80 499.70 C872.08 499.70 876.12 499.94 880.40 500.50 C884.68 501.06 888.81 502.27 893.10 503.00 C897.39 503.73 901.51 504.70 905.80 504.80 C910.09 504.90 913.99 504.46 918.50 503.60 C923.01 502.74 930.13 500.36 932.50 499.70" fill="none" stroke="#ff6d00" stroke-width="1.1" stroke-linejoin="round" stroke-linecap="round" opacity="0.52"/>
<path d="M5.50 509.00 C6.89 509.17 10.40 509.94 13.70 510.00 C17.38 510.07 23.35 509.50 27.30 509.40 C31.22 509.30 34.13 508.81 37.10 509.40 C40.07 509.99 42.42 511.80 44.90 512.90 C47.38 514.00 49.48 515.63 51.80 515.90 C54.12 516.17 55.94 515.29 58.60 514.50 C61.41 513.67 64.45 512.32 68.40 511.00 C72.35 509.68 77.05 507.87 82.00 506.70 C86.95 505.53 92.75 504.96 97.70 504.10 C102.65 503.24 107.35 503.09 111.30 501.60 C115.25 500.11 117.79 497.34 121.10 495.30 C124.41 493.26 127.60 491.07 130.90 489.50 C134.20 487.93 136.98 486.83 140.60 486.00 C144.22 485.17 148.01 485.17 152.30 484.60 C156.59 484.03 162.03 482.84 166.00 482.60 C169.92 482.37 172.83 482.76 175.80 483.20 C178.77 483.64 181.20 484.85 183.60 485.20 C186.00 485.55 188.06 485.42 190.00 485.30 C191.94 485.18 193.21 485.32 195.10 484.50 C197.67 483.38 201.77 480.07 205.20 478.70 C208.63 477.33 211.97 476.79 215.40 476.40 C218.83 476.01 222.07 476.20 225.50 476.40 C228.93 476.60 232.47 477.09 235.70 477.60 C238.93 478.11 240.97 479.23 244.60 479.40 C248.47 479.59 254.53 479.34 258.60 478.70 C262.67 478.06 265.49 475.68 268.70 475.60 C271.91 475.52 273.94 477.59 277.60 478.20 C281.47 478.84 287.95 478.76 291.60 479.40 C294.76 479.96 296.29 480.63 299.20 482.00 C302.85 483.72 308.48 487.67 313.20 489.60 C317.92 491.53 322.81 491.98 327.10 493.40 C331.39 494.82 334.73 497.14 338.60 498.00 C342.47 498.86 346.79 498.94 350.00 498.50 C353.21 498.06 355.03 496.18 357.60 495.40 C360.17 494.62 362.11 493.75 365.20 493.90 C368.63 494.07 373.61 495.62 377.90 496.40 C382.19 497.18 385.88 497.64 390.60 498.50 C395.32 499.36 401.08 500.44 405.80 501.50 C410.52 502.56 415.49 503.94 418.50 504.80 C420.58 505.40 421.44 506.77 423.60 506.60 C426.19 506.40 431.03 504.33 433.80 503.60 C436.25 502.96 437.51 502.75 440.00 502.30 C443.62 501.64 450.91 500.00 455.20 499.70 C459.28 499.41 461.95 500.84 465.40 500.50 C468.85 500.16 471.40 498.25 475.60 497.70 C479.89 497.14 486.08 497.50 490.80 497.20 C495.52 496.90 499.65 497.32 503.50 495.90 C507.35 494.48 509.31 491.15 513.60 488.80 C517.89 486.45 523.97 483.45 528.90 482.00 C533.83 480.55 538.95 480.28 542.80 480.20 C546.40 480.12 548.47 480.77 551.70 481.50 C554.93 482.23 557.71 483.79 561.90 484.50 C566.19 485.23 572.81 485.16 577.10 485.80 C581.25 486.42 583.43 487.54 587.30 488.30 C591.17 489.06 596.15 489.44 600.00 490.30 C603.85 491.16 606.25 491.93 610.10 493.40 C613.95 494.87 618.93 497.63 622.80 499.00 C626.67 500.37 629.99 500.94 633.00 501.50 C636.01 502.06 638.03 502.38 640.60 502.30 C643.17 502.22 645.14 501.39 648.20 501.00 C651.63 500.56 657.03 500.34 660.90 499.70 C664.77 499.06 668.51 498.13 671.10 497.20 C673.33 496.40 674.05 494.50 676.20 494.20 C678.35 493.90 681.47 495.03 683.80 495.40 C686.13 495.77 687.55 495.86 690.00 496.40 C692.77 497.01 696.10 498.05 700.20 499.00 C704.49 500.00 710.68 501.10 715.40 502.30 C720.12 503.50 723.81 504.82 728.10 506.10 C732.39 507.38 737.15 509.04 740.80 509.90 C744.30 510.73 746.49 510.34 749.70 511.20 C752.91 512.06 756.59 514.15 759.80 515.00 C763.01 515.85 765.47 516.28 768.70 516.20 C771.93 516.12 775.03 515.01 778.90 514.50 C782.77 513.99 787.75 513.67 791.60 513.20 C795.45 512.73 798.27 512.26 801.70 511.70 C805.13 511.14 808.47 511.07 811.90 509.90 C815.33 508.73 818.57 506.30 822.00 504.80 C825.43 503.30 828.75 501.98 832.20 501.00 C835.65 500.02 838.53 499.64 842.40 499.00 C846.27 498.36 850.81 497.37 855.10 497.20 C859.39 497.03 863.95 497.27 867.80 498.00 C871.65 498.73 874.47 500.22 877.90 501.50 C881.33 502.78 884.67 504.48 888.10 505.60 C891.53 506.72 895.21 507.93 898.20 508.10 C901.19 508.27 903.21 507.24 905.80 506.60 C908.39 505.96 910.61 505.70 913.50 504.30 C916.51 502.85 920.39 499.98 923.60 498.00 C926.81 496.02 931.00 493.51 932.50 492.60" fill="none" stroke="#2962ff" stroke-width="1.1" stroke-linejoin="round" stroke-linecap="round" opacity="0.52"/>
<text x="9.7" y="15.7" font-size="7.4" fill="#131722" textLength="108.1" lengthAdjust="spacingAndGlyphs">Bitcoin / U.S. Dollar · 1D · Bitstamp</text>
<text x="121.6" y="15.7" font-size="7.4" fill="#131722" textLength="4.6" lengthAdjust="spacingAndGlyphs">O</text>
<text x="126.6" y="15.7" font-size="7.4" fill="#ee3a48" textLength="23.4" lengthAdjust="spacingAndGlyphs">122,329</text>
<text x="154.4" y="15.7" font-size="7.4" fill="#131722" textLength="4" lengthAdjust="spacingAndGlyphs">H</text>
<text x="158.5" y="15.7" font-size="7.4" fill="#ee3a48" textLength="23.2" lengthAdjust="spacingAndGlyphs">122,885</text>
<text x="186.3" y="15.7" font-size="7.4" fill="#131722" textLength="3.4" lengthAdjust="spacingAndGlyphs">L</text>
<text x="189.9" y="15.7" font-size="7.4" fill="#ee3a48" textLength="23.1" lengthAdjust="spacingAndGlyphs">121,786</text>
<text x="216.8" y="15.7" font-size="7.4" fill="#131722" textLength="4.2" lengthAdjust="spacingAndGlyphs">C</text>
<text x="221.2" y="15.7" font-size="7.4" fill="#ee3a48" textLength="22.8" lengthAdjust="spacingAndGlyphs">122,182</text>
<text x="248.8" y="15.7" font-size="7.4" fill="#ee3a48" textLength="41.2" lengthAdjust="spacingAndGlyphs">−126 (−0.10%)</text>
<text x="9.7" y="25.1" font-size="7.4" fill="#131722" textLength="48.9" lengthAdjust="spacingAndGlyphs">SMA (200, close)</text>
<text x="63" y="25.1" font-size="7.4" fill="#2962ff" textLength="23.4" lengthAdjust="spacingAndGlyphs">105,520</text>
<text x="9.7" y="34.5" font-size="7.4" fill="#131722" textLength="48.9" lengthAdjust="spacingAndGlyphs">SMA (100, close)</text>
<text x="63" y="34.5" font-size="7.4" fill="#ff9800" textLength="23.4" lengthAdjust="spacingAndGlyphs">114,458</text>
<text x="9.7" y="44" font-size="7.4" fill="#131722" textLength="65.9" lengthAdjust="spacingAndGlyphs">BB (20, SMA, close, 2)</text>
<text x="9.8" y="431.8" font-size="7.4" fill="#131722" textLength="36.1" lengthAdjust="spacingAndGlyphs">DMI (14, 14)</text>
<text x="49.8" y="431.8" font-size="7.4" fill="#f50057" textLength="16.2" lengthAdjust="spacingAndGlyphs">24.50</text>
<text x="70.7" y="431.8" font-size="7.4" fill="#2962ff" textLength="15.3" lengthAdjust="spacingAndGlyphs">37.91</text>
<text x="91.4" y="431.8" font-size="7.4" fill="#ff6d00" textLength="15.6" lengthAdjust="spacingAndGlyphs">12.53</text>
<text x="9.8" y="481.8" font-size="7.4" fill="#131722" textLength="61.5" lengthAdjust="spacingAndGlyphs">MACD (12, 26, close)</text>
<text x="76.2" y="481.8" font-size="7.4" fill="#22ab94" textLength="25.4" lengthAdjust="spacingAndGlyphs">1,112.04</text>
<text x="106.4" y="481.8" font-size="7.4" fill="#2962ff" textLength="25.4" lengthAdjust="spacingAndGlyphs">1,627.15</text>
<text x="135.7" y="481.8" font-size="7.4" fill="#ff6d00" textLength="19.6" lengthAdjust="spacingAndGlyphs">515.11</text>
<text x="17.7" y="530.6" font-size="6.9" fill="#131722" stroke="#131722" stroke-width="0.22" text-anchor="middle">Apr</text>
<text x="165.2" y="530.6" font-size="6.9" fill="#131722" stroke="#131722" stroke-width="0.22" text-anchor="middle">May</text>
<text x="317.6" y="530.6" font-size="6.9" fill="#131722" stroke="#131722" stroke-width="0.22" text-anchor="middle">Jun</text>
<text x="465.2" y="530.6" font-size="6.9" fill="#131722" stroke="#131722" stroke-width="0.22" text-anchor="middle">Jul</text>
<text x="617.6" y="530.6" font-size="6.9" fill="#131722" stroke="#131722" stroke-width="0.22" text-anchor="middle">Aug</text>
<text x="770" y="530.6" font-size="6.9" fill="#131722" stroke="#131722" stroke-width="0.22" text-anchor="middle">Sep</text>
<text x="917.8" y="530.6" font-size="6.9" fill="#131722" stroke="#131722" stroke-width="0.22" text-anchor="middle">Oct</text>
<text x="989" y="410.9" font-size="6.9" fill="#131722" textLength="20" lengthAdjust="spacingAndGlyphs">75,000</text>
<text x="989" y="391.15" font-size="6.9" fill="#131722" textLength="20" lengthAdjust="spacingAndGlyphs">77,500</text>
<text x="989" y="371.4" font-size="6.9" fill="#131722" textLength="20" lengthAdjust="spacingAndGlyphs">80,000</text>
<text x="989" y="351.65" font-size="6.9" fill="#131722" textLength="20" lengthAdjust="spacingAndGlyphs">82,500</text>
<text x="989" y="331.9" font-size="6.9" fill="#131722" textLength="20" lengthAdjust="spacingAndGlyphs">85,000</text>
<text x="989" y="312.15" font-size="6.9" fill="#131722" textLength="20" lengthAdjust="spacingAndGlyphs">87,500</text>
<text x="989" y="292.4" font-size="6.9" fill="#131722" textLength="20" lengthAdjust="spacingAndGlyphs">90,000</text>
<text x="989" y="272.65" font-size="6.9" fill="#131722" textLength="20" lengthAdjust="spacingAndGlyphs">92,500</text>
<text x="989" y="252.9" font-size="6.9" fill="#131722" textLength="20" lengthAdjust="spacingAndGlyphs">95,000</text>
<text x="989" y="233.15" font-size="6.9" fill="#131722" textLength="20" lengthAdjust="spacingAndGlyphs">97,500</text>
<text x="989" y="213.4" font-size="6.9" fill="#131722" textLength="23.4" lengthAdjust="spacingAndGlyphs">100,000</text>
<text x="989" y="193.65" font-size="6.9" fill="#131722" textLength="23.4" lengthAdjust="spacingAndGlyphs">102,500</text>
<text x="989" y="173.9" font-size="6.9" fill="#131722" textLength="23.4" lengthAdjust="spacingAndGlyphs">105,000</text>
<text x="989" y="154.15" font-size="6.9" fill="#131722" textLength="23.4" lengthAdjust="spacingAndGlyphs">107,500</text>
<text x="989" y="134.4" font-size="6.9" fill="#131722" textLength="23.4" lengthAdjust="spacingAndGlyphs">110,000</text>
<text x="989" y="114.65" font-size="6.9" fill="#131722" textLength="23.4" lengthAdjust="spacingAndGlyphs">112,500</text>
<text x="989" y="94.9" font-size="6.9" fill="#131722" textLength="23.4" lengthAdjust="spacingAndGlyphs">115,000</text>
<text x="989" y="75.15" font-size="6.9" fill="#131722" textLength="23.4" lengthAdjust="spacingAndGlyphs">117,500</text>
<text x="989" y="55.4" font-size="6.9" fill="#131722" textLength="23.4" lengthAdjust="spacingAndGlyphs">120,000</text>
<text x="989" y="35.65" font-size="6.9" fill="#131722" textLength="23.4" lengthAdjust="spacingAndGlyphs">122,500</text>
<text x="989" y="15.9" font-size="6.9" fill="#131722" textLength="23.4" lengthAdjust="spacingAndGlyphs">125,000</text>
<text x="989.6" y="455.8" font-size="6.9" fill="#131722" textLength="15.5" lengthAdjust="spacingAndGlyphs">20.00</text>
<text x="989.6" y="430.6" font-size="6.9" fill="#131722" textLength="15.5" lengthAdjust="spacingAndGlyphs">40.00</text>
<text x="989" y="479.3" font-size="6.9" fill="#131722" textLength="26" lengthAdjust="spacingAndGlyphs">4,000.00</text>
<rect x="984.2" y="12.9" width="31.3" height="9" fill="#e040fb"/>
<text x="989" y="19.9" font-size="6.9" fill="#fff" textLength="23.4" lengthAdjust="spacingAndGlyphs">123,300</text>
<rect x="984.2" y="21.9" width="31.3" height="9.1" fill="#000"/>
<text x="989" y="28.95" font-size="6.9" fill="#fff" textLength="23.4" lengthAdjust="spacingAndGlyphs">122,641</text>
<rect x="984.2" y="31" width="31.3" height="9.6" fill="#f23645"/>
<text x="989" y="38.3" font-size="6.9" fill="#fff" textLength="23.4" lengthAdjust="spacingAndGlyphs">122,182</text>
<rect x="984.2" y="87.6" width="31.3" height="8.6" fill="#000"/>
<text x="989" y="94.4" font-size="6.9" fill="#fff" textLength="23.4" lengthAdjust="spacingAndGlyphs">115,175</text>
<rect x="984.2" y="96.2" width="31.3" height="9.6" fill="#ff9800"/>
<text x="989" y="103.5" font-size="6.9" fill="#131722" textLength="23.4" lengthAdjust="spacingAndGlyphs">114,458</text>
<rect x="984.2" y="146.3" width="31.3" height="9.4" fill="#000"/>
<text x="989" y="153.5" font-size="6.9" fill="#fff" textLength="23.4" lengthAdjust="spacingAndGlyphs">107,709</text>
<rect x="984.2" y="163" width="31.3" height="9.4" fill="#3b62ff"/>
<text x="989" y="170.2" font-size="6.9" fill="#fff" textLength="23.4" lengthAdjust="spacingAndGlyphs">105,520</text>
<rect x="984.3" y="426.8" width="24.2" height="9.3" fill="#3b62ff"/>
<text x="989" y="433.95" font-size="6.9" fill="#fff" textLength="16" lengthAdjust="spacingAndGlyphs">37.91</text>
<rect x="984.3" y="443.1" width="24.2" height="9" fill="#e91e63"/>
<text x="989" y="450.1" font-size="6.9" fill="#fff" textLength="16" lengthAdjust="spacingAndGlyphs">24.50</text>
<rect x="984.3" y="457.5" width="24.2" height="9.4" fill="#f57c00"/>
<text x="989" y="464.7" font-size="6.9" fill="#fff" textLength="16" lengthAdjust="spacingAndGlyphs">12.53</text>
<rect x="984.3" y="482" width="33.6" height="9.6" fill="#3b62ff"/>
<text x="989" y="489.3" font-size="6.9" fill="#fff" textLength="25.5" lengthAdjust="spacingAndGlyphs">1,627.15</text>
<rect x="984.3" y="491.6" width="33.6" height="9.2" fill="#26a69a"/>
<text x="989" y="498.7" font-size="6.9" fill="#fff" textLength="25.5" lengthAdjust="spacingAndGlyphs">1,112.04</text>
<rect x="984.3" y="501.1" width="27.6" height="9.6" fill="#f57c00"/>
<text x="989" y="508.4" font-size="6.9" fill="#fff" textLength="19.5" lengthAdjust="spacingAndGlyphs">515.11</text>
</svg></body></html>
